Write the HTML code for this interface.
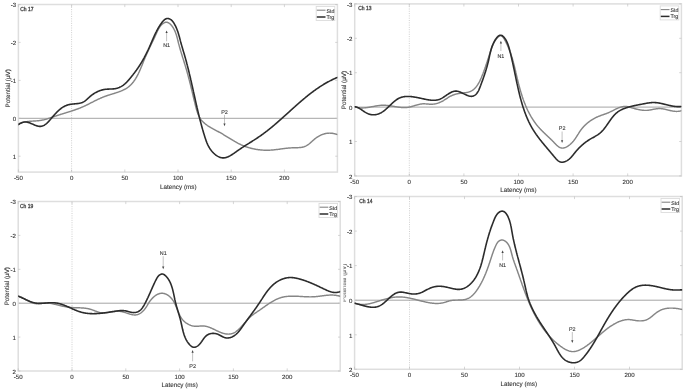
<!DOCTYPE html>
<html><head><meta charset="utf-8"><style>
html,body{margin:0;padding:0;background:#fff;}
body{width:685px;height:392px;overflow:hidden;}
svg{display:block;}
svg text{font-family:"Liberation Sans", sans-serif;text-rendering:geometricPrecision;fill:#333;stroke:#444;stroke-width:0.12px;}
svg{filter:blur(0.35px);}
</style></head><body>
<svg width="685" height="392" viewBox="0 0 685 392">
<rect width="685" height="392" fill="#fff"/>
<clipPath id="c1"><rect x="18.4" y="4.5" width="319.0" height="167.6"/></clipPath>
<line x1="71.6" y1="4.5" x2="71.6" y2="172.1" stroke="#c4c4c4" stroke-width="0.8" stroke-dasharray="1 1.3"/>
<line x1="18.4" y1="118.3" x2="337.4" y2="118.3" stroke="#9a9a9a" stroke-width="0.9"/>
<rect x="18.4" y="4.5" width="319.0" height="167.6" fill="none" stroke="#dedede" stroke-width="1.5"/>
<line x1="18.4" y1="4.5" x2="20.6" y2="4.5" stroke="#bbb" stroke-width="0.6"/>
<line x1="337.4" y1="4.5" x2="335.2" y2="4.5" stroke="#bbb" stroke-width="0.6"/>
<text x="16.2" y="7.2" text-anchor="end" font-size="6.1">-3</text>
<line x1="18.4" y1="42.4" x2="20.6" y2="42.4" stroke="#bbb" stroke-width="0.6"/>
<line x1="337.4" y1="42.4" x2="335.2" y2="42.4" stroke="#bbb" stroke-width="0.6"/>
<text x="16.2" y="45.1" text-anchor="end" font-size="6.1">-2</text>
<line x1="18.4" y1="80.4" x2="20.6" y2="80.4" stroke="#bbb" stroke-width="0.6"/>
<line x1="337.4" y1="80.4" x2="335.2" y2="80.4" stroke="#bbb" stroke-width="0.6"/>
<text x="16.2" y="83.1" text-anchor="end" font-size="6.1">-1</text>
<line x1="18.4" y1="118.3" x2="20.6" y2="118.3" stroke="#bbb" stroke-width="0.6"/>
<line x1="337.4" y1="118.3" x2="335.2" y2="118.3" stroke="#bbb" stroke-width="0.6"/>
<text x="16.2" y="121.0" text-anchor="end" font-size="6.1">0</text>
<line x1="18.4" y1="156.2" x2="20.6" y2="156.2" stroke="#bbb" stroke-width="0.6"/>
<line x1="337.4" y1="156.2" x2="335.2" y2="156.2" stroke="#bbb" stroke-width="0.6"/>
<text x="16.2" y="158.9" text-anchor="end" font-size="6.1">1</text>
<line x1="18.4" y1="172.1" x2="18.4" y2="169.5" stroke="#bbb" stroke-width="0.6"/>
<line x1="18.4" y1="4.5" x2="18.4" y2="7.1" stroke="#bbb" stroke-width="0.6"/>
<text x="18.4" y="180.2" text-anchor="middle" font-size="6.1">-50</text>
<line x1="71.6" y1="172.1" x2="71.6" y2="169.5" stroke="#bbb" stroke-width="0.6"/>
<line x1="71.6" y1="4.5" x2="71.6" y2="7.1" stroke="#bbb" stroke-width="0.6"/>
<text x="71.6" y="180.2" text-anchor="middle" font-size="6.1">0</text>
<line x1="124.8" y1="172.1" x2="124.8" y2="169.5" stroke="#bbb" stroke-width="0.6"/>
<line x1="124.8" y1="4.5" x2="124.8" y2="7.1" stroke="#bbb" stroke-width="0.6"/>
<text x="124.8" y="180.2" text-anchor="middle" font-size="6.1">50</text>
<line x1="178.0" y1="172.1" x2="178.0" y2="169.5" stroke="#bbb" stroke-width="0.6"/>
<line x1="178.0" y1="4.5" x2="178.0" y2="7.1" stroke="#bbb" stroke-width="0.6"/>
<text x="178.0" y="180.2" text-anchor="middle" font-size="6.1">100</text>
<line x1="231.2" y1="172.1" x2="231.2" y2="169.5" stroke="#bbb" stroke-width="0.6"/>
<line x1="231.2" y1="4.5" x2="231.2" y2="7.1" stroke="#bbb" stroke-width="0.6"/>
<text x="231.2" y="180.2" text-anchor="middle" font-size="6.1">150</text>
<line x1="284.4" y1="172.1" x2="284.4" y2="169.5" stroke="#bbb" stroke-width="0.6"/>
<line x1="284.4" y1="4.5" x2="284.4" y2="7.1" stroke="#bbb" stroke-width="0.6"/>
<text x="284.4" y="180.2" text-anchor="middle" font-size="6.1">200</text>
<text x="178.3" y="188.5" text-anchor="middle" font-size="6.3">Latency (ms)</text>
<text transform="translate(9.6 88.3) rotate(-90)" text-anchor="middle" font-size="6.3">Potential (&#956;V)</text>
<text x="20.2" y="11.0" font-size="5.8" textLength="13.2" lengthAdjust="spacingAndGlyphs" style="stroke-width:0.3px">Ch 17</text>
<g clip-path="url(#c1)" fill="none" stroke-linejoin="round" stroke-linecap="round">
<path d="M18.41 124.12 L18.86 123.89 L19.32 123.68 L19.78 123.47 L20.24 123.28 L20.71 123.10 L21.18 122.93 L21.65 122.77 L22.13 122.62 L22.60 122.48 L23.09 122.35 L23.57 122.23 L24.06 122.12 L24.55 122.02 L25.04 121.92 L25.53 121.83 L26.03 121.75 L26.53 121.68 L27.03 121.61 L27.53 121.54 L28.03 121.49 L28.54 121.43 L29.04 121.38 L29.55 121.34 L30.05 121.29 L30.56 121.26 L31.07 121.22 L31.58 121.18 L32.08 121.15 L32.59 121.12 L33.10 121.09 L33.61 121.06 L34.12 121.02 L34.63 120.99 L35.13 120.96 L35.64 120.92 L36.15 120.89 L36.65 120.85 L37.15 120.81 L37.66 120.76 L38.16 120.72 L38.66 120.66 L39.15 120.61 L39.65 120.54 L40.14 120.48 L40.63 120.40 L41.12 120.32 L41.61 120.24 L42.10 120.15 L42.58 120.05 L43.06 119.95 L43.54 119.84 L44.02 119.73 L44.49 119.61 L44.97 119.49 L45.44 119.36 L45.91 119.24 L46.38 119.10 L46.85 118.96 L47.32 118.82 L47.79 118.68 L48.26 118.53 L48.72 118.39 L49.19 118.24 L49.66 118.08 L50.12 117.93 L50.59 117.77 L51.05 117.61 L51.52 117.45 L51.98 117.29 L52.45 117.13 L52.92 116.97 L53.38 116.81 L53.85 116.65 L54.32 116.49 L54.79 116.32 L55.26 116.16 L55.73 116.00 L56.20 115.85 L56.67 115.69 L57.14 115.53 L57.62 115.38 L58.09 115.22 L58.57 115.07 L59.05 114.92 L59.53 114.77 L60.00 114.61 L60.48 114.46 L60.96 114.31 L61.44 114.16 L61.93 114.02 L62.41 113.87 L62.89 113.72 L63.37 113.57 L63.85 113.42 L64.34 113.27 L64.82 113.12 L65.30 112.98 L65.79 112.83 L66.27 112.68 L66.75 112.53 L67.24 112.38 L67.72 112.23 L68.20 112.08 L68.69 111.93 L69.17 111.78 L69.65 111.63 L70.13 111.47 L70.61 111.32 L71.09 111.17 L71.58 111.01 L72.06 110.85 L72.53 110.70 L73.01 110.54 L73.49 110.38 L73.97 110.22 L74.45 110.05 L74.92 109.89 L75.40 109.72 L75.87 109.56 L76.34 109.39 L76.81 109.22 L77.28 109.05 L77.75 108.87 L78.22 108.70 L78.69 108.52 L79.15 108.34 L79.62 108.16 L80.08 107.97 L80.54 107.79 L81.00 107.60 L81.46 107.41 L81.92 107.21 L82.37 107.02 L82.82 106.82 L83.28 106.62 L83.73 106.42 L84.17 106.21 L84.62 106.00 L85.07 105.80 L85.51 105.58 L85.96 105.37 L86.40 105.16 L86.84 104.94 L87.28 104.73 L87.72 104.51 L88.16 104.29 L88.60 104.07 L89.04 103.85 L89.48 103.62 L89.91 103.40 L90.35 103.18 L90.79 102.96 L91.23 102.73 L91.66 102.51 L92.10 102.28 L92.54 102.06 L92.98 101.84 L93.41 101.61 L93.85 101.39 L94.29 101.17 L94.73 100.95 L95.17 100.72 L95.61 100.50 L96.06 100.28 L96.50 100.07 L96.94 99.85 L97.39 99.63 L97.83 99.42 L98.28 99.21 L98.73 99.00 L99.18 98.79 L99.63 98.58 L100.09 98.38 L100.54 98.17 L101.00 97.97 L101.46 97.78 L101.92 97.58 L102.39 97.39 L102.85 97.20 L103.32 97.01 L103.79 96.83 L104.26 96.65 L104.74 96.47 L105.21 96.30 L105.69 96.12 L106.18 95.95 L106.66 95.79 L107.15 95.63 L107.63 95.46 L108.12 95.30 L108.61 95.15 L109.10 94.99 L109.60 94.83 L110.09 94.68 L110.58 94.53 L111.08 94.37 L111.57 94.22 L112.06 94.07 L112.56 93.92 L113.05 93.77 L113.54 93.61 L114.04 93.46 L114.53 93.31 L115.02 93.15 L115.51 92.99 L116.00 92.84 L116.48 92.68 L116.97 92.51 L117.45 92.35 L117.93 92.18 L118.41 92.02 L118.89 91.84 L119.36 91.67 L119.83 91.49 L120.30 91.31 L120.77 91.13 L121.23 90.94 L121.69 90.75 L122.14 90.55 L122.59 90.35 L123.04 90.14 L123.48 89.93 L123.92 89.71 L124.36 89.49 L124.79 89.27 L125.21 89.03 L125.63 88.80 L126.04 88.55 L126.45 88.30 L126.86 88.04 L127.26 87.78 L127.65 87.50 L128.03 87.23 L128.41 86.94 L128.79 86.65 L129.16 86.34 L129.52 86.04 L129.87 85.72 L130.22 85.40 L130.57 85.07 L130.91 84.73 L131.24 84.39 L131.57 84.04 L131.89 83.69 L132.21 83.33 L132.52 82.96 L132.83 82.59 L133.13 82.21 L133.43 81.82 L133.72 81.44 L134.01 81.04 L134.29 80.64 L134.57 80.24 L134.84 79.83 L135.12 79.42 L135.38 79.00 L135.65 78.58 L135.91 78.15 L136.16 77.72 L136.41 77.29 L136.66 76.85 L136.91 76.41 L137.15 75.97 L137.39 75.52 L137.62 75.07 L137.86 74.61 L138.09 74.16 L138.31 73.70 L138.54 73.24 L138.76 72.77 L138.98 72.30 L139.20 71.84 L139.41 71.37 L139.62 70.89 L139.83 70.42 L140.04 69.94 L140.25 69.47 L140.46 68.99 L140.66 68.51 L140.86 68.03 L141.06 67.55 L141.26 67.07 L141.46 66.59 L141.66 66.11 L141.85 65.62 L142.05 65.14 L142.24 64.66 L142.44 64.18 L142.63 63.70 L142.82 63.22 L143.02 62.74 L143.21 62.26 L143.40 61.78 L143.59 61.30 L143.79 60.82 L143.98 60.35 L144.17 59.88 L144.37 59.41 L144.56 58.94 L144.75 58.47 L144.95 58.00 L145.14 57.54 L145.34 57.08 L145.54 56.62 L145.74 56.17 L145.93 55.71 L146.13 55.26 L146.33 54.81 L146.54 54.36 L146.74 53.91 L146.94 53.46 L147.14 53.01 L147.34 52.57 L147.55 52.13 L147.75 51.69 L147.96 51.24 L148.16 50.80 L148.37 50.36 L148.57 49.93 L148.78 49.49 L148.99 49.05 L149.20 48.61 L149.40 48.18 L149.61 47.74 L149.82 47.30 L150.03 46.87 L150.24 46.43 L150.45 46.00 L150.66 45.56 L150.87 45.12 L151.08 44.69 L151.29 44.25 L151.50 43.81 L151.71 43.37 L151.92 42.93 L152.13 42.49 L152.35 42.05 L152.56 41.61 L152.77 41.17 L152.98 40.72 L153.19 40.28 L153.41 39.83 L153.62 39.38 L153.83 38.94 L154.04 38.49 L154.26 38.03 L154.47 37.58 L154.68 37.12 L154.89 36.67 L155.10 36.21 L155.32 35.74 L155.53 35.28 L155.74 34.81 L155.95 34.34 L156.16 33.87 L156.37 33.40 L156.59 32.93 L156.80 32.45 L157.02 31.98 L157.24 31.50 L157.46 31.03 L157.68 30.56 L157.92 30.09 L158.15 29.63 L158.40 29.17 L158.65 28.71 L158.90 28.27 L159.17 27.83 L159.45 27.39 L159.73 26.97 L160.03 26.55 L160.33 26.15 L160.65 25.75 L160.98 25.37 L161.32 24.99 L161.68 24.63 L162.05 24.29 L162.44 23.96 L162.84 23.64 L163.25 23.34 L163.68 23.07 L164.12 22.83 L164.56 22.62 L165.00 22.45 L165.44 22.32 L165.88 22.25 L166.32 22.23 L166.75 22.25 L167.17 22.32 L167.59 22.43 L168.01 22.58 L168.42 22.77 L168.82 22.99 L169.21 23.24 L169.60 23.53 L169.98 23.84 L170.35 24.18 L170.71 24.53 L171.07 24.91 L171.41 25.31 L171.74 25.72 L172.07 26.14 L172.38 26.57 L172.68 27.01 L172.98 27.46 L173.26 27.91 L173.52 28.36 L173.78 28.81 L174.03 29.26 L174.26 29.71 L174.49 30.17 L174.71 30.63 L174.92 31.09 L175.12 31.55 L175.31 32.02 L175.49 32.48 L175.67 32.95 L175.84 33.41 L176.01 33.88 L176.16 34.35 L176.32 34.83 L176.46 35.30 L176.61 35.77 L176.75 36.25 L176.88 36.72 L177.01 37.20 L177.14 37.68 L177.26 38.15 L177.39 38.63 L177.51 39.11 L177.63 39.59 L177.75 40.07 L177.87 40.55 L177.98 41.04 L178.10 41.52 L178.22 42.00 L178.34 42.48 L178.46 42.96 L178.59 43.44 L178.71 43.93 L178.84 44.41 L178.97 44.89 L179.10 45.37 L179.23 45.86 L179.36 46.34 L179.49 46.82 L179.63 47.30 L179.76 47.78 L179.90 48.27 L180.04 48.75 L180.18 49.23 L180.32 49.71 L180.46 50.20 L180.61 50.68 L180.75 51.16 L180.89 51.64 L181.04 52.13 L181.19 52.61 L181.33 53.09 L181.48 53.57 L181.63 54.05 L181.78 54.54 L181.92 55.02 L182.07 55.50 L182.22 55.98 L182.37 56.46 L182.52 56.94 L182.67 57.43 L182.83 57.91 L182.98 58.39 L183.13 58.87 L183.28 59.35 L183.43 59.83 L183.58 60.31 L183.73 60.79 L183.88 61.27 L184.03 61.75 L184.18 62.23 L184.33 62.71 L184.48 63.19 L184.63 63.67 L184.78 64.15 L184.92 64.63 L185.07 65.11 L185.22 65.59 L185.36 66.07 L185.51 66.54 L185.65 67.02 L185.79 67.50 L185.94 67.98 L186.08 68.45 L186.22 68.93 L186.36 69.41 L186.50 69.89 L186.63 70.36 L186.77 70.84 L186.90 71.31 L187.04 71.79 L187.17 72.27 L187.31 72.74 L187.44 73.22 L187.57 73.69 L187.70 74.17 L187.83 74.64 L187.96 75.12 L188.09 75.60 L188.22 76.07 L188.34 76.55 L188.47 77.02 L188.59 77.50 L188.72 77.97 L188.84 78.45 L188.97 78.93 L189.09 79.40 L189.21 79.88 L189.34 80.35 L189.46 80.83 L189.58 81.31 L189.70 81.78 L189.82 82.26 L189.94 82.74 L190.06 83.22 L190.18 83.69 L190.30 84.17 L190.42 84.65 L190.54 85.13 L190.66 85.61 L190.77 86.09 L190.89 86.57 L191.01 87.05 L191.13 87.53 L191.24 88.01 L191.36 88.49 L191.48 88.97 L191.59 89.45 L191.71 89.94 L191.83 90.42 L191.95 90.90 L192.06 91.39 L192.18 91.87 L192.30 92.36 L192.41 92.84 L192.53 93.33 L192.65 93.82 L192.76 94.30 L192.88 94.79 L193.00 95.28 L193.11 95.77 L193.23 96.26 L193.35 96.75 L193.47 97.24 L193.59 97.74 L193.71 98.23 L193.82 98.72 L193.94 99.22 L194.06 99.71 L194.18 100.21 L194.30 100.71 L194.43 101.20 L194.55 101.70 L194.67 102.20 L194.79 102.70 L194.91 103.20 L195.04 103.71 L195.16 104.21 L195.28 104.71 L195.41 105.22 L195.53 105.73 L195.66 106.23 L195.79 106.74 L195.92 107.25 L196.05 107.75 L196.18 108.26 L196.32 108.76 L196.46 109.26 L196.60 109.77 L196.75 110.27 L196.90 110.76 L197.05 111.26 L197.21 111.75 L197.37 112.24 L197.54 112.72 L197.71 113.20 L197.89 113.68 L198.07 114.15 L198.26 114.61 L198.46 115.08 L198.66 115.53 L198.87 115.98 L199.09 116.42 L199.31 116.86 L199.55 117.29 L199.79 117.71 L200.04 118.13 L200.30 118.54 L200.56 118.94 L200.84 119.33 L201.13 119.71 L201.42 120.09 L201.72 120.46 L202.03 120.82 L202.35 121.17 L202.68 121.52 L203.01 121.86 L203.35 122.20 L203.70 122.53 L204.05 122.85 L204.41 123.17 L204.78 123.48 L205.15 123.79 L205.53 124.09 L205.91 124.39 L206.30 124.68 L206.70 124.97 L207.10 125.25 L207.50 125.53 L207.91 125.80 L208.32 126.08 L208.74 126.34 L209.16 126.61 L209.58 126.87 L210.01 127.13 L210.44 127.38 L210.87 127.64 L211.31 127.89 L211.75 128.14 L212.19 128.38 L212.63 128.63 L213.08 128.87 L213.52 129.11 L213.97 129.36 L214.42 129.60 L214.87 129.84 L215.32 130.08 L215.77 130.31 L216.22 130.55 L216.67 130.79 L217.12 131.03 L217.57 131.27 L218.02 131.51 L218.47 131.75 L218.92 131.99 L219.36 132.24 L219.81 132.48 L220.25 132.73 L220.69 132.98 L221.13 133.23 L221.57 133.48 L222.00 133.73 L222.44 133.99 L222.87 134.24 L223.30 134.50 L223.73 134.76 L224.16 135.01 L224.59 135.27 L225.01 135.53 L225.44 135.79 L225.86 136.05 L226.29 136.32 L226.71 136.58 L227.13 136.84 L227.56 137.10 L227.98 137.36 L228.40 137.62 L228.82 137.88 L229.24 138.14 L229.66 138.40 L230.08 138.66 L230.50 138.92 L230.93 139.18 L231.35 139.44 L231.77 139.69 L232.19 139.95 L232.61 140.20 L233.04 140.45 L233.46 140.71 L233.88 140.95 L234.31 141.20 L234.73 141.45 L235.16 141.69 L235.59 141.93 L236.02 142.17 L236.45 142.41 L236.88 142.65 L237.31 142.88 L237.75 143.11 L238.18 143.34 L238.62 143.56 L239.06 143.79 L239.50 144.01 L239.94 144.22 L240.39 144.44 L240.83 144.65 L241.28 144.85 L241.73 145.06 L242.19 145.25 L242.64 145.45 L243.10 145.64 L243.56 145.83 L244.02 146.02 L244.49 146.20 L244.96 146.37 L245.42 146.55 L245.90 146.71 L246.37 146.88 L246.85 147.04 L247.33 147.20 L247.81 147.35 L248.29 147.50 L248.77 147.64 L249.26 147.79 L249.74 147.92 L250.23 148.06 L250.72 148.19 L251.21 148.31 L251.70 148.43 L252.20 148.55 L252.69 148.67 L253.19 148.78 L253.69 148.88 L254.19 148.98 L254.68 149.08 L255.18 149.18 L255.69 149.27 L256.19 149.35 L256.69 149.43 L257.19 149.51 L257.70 149.59 L258.20 149.66 L258.70 149.72 L259.21 149.78 L259.71 149.84 L260.22 149.90 L260.72 149.95 L261.23 149.99 L261.73 150.03 L262.24 150.07 L262.74 150.11 L263.25 150.14 L263.75 150.16 L264.26 150.18 L264.76 150.20 L265.26 150.22 L265.77 150.23 L266.27 150.23 L266.77 150.23 L267.27 150.23 L267.77 150.22 L268.27 150.21 L268.76 150.20 L269.26 150.18 L269.76 150.16 L270.25 150.13 L270.75 150.10 L271.24 150.07 L271.73 150.03 L272.22 149.99 L272.71 149.95 L273.21 149.91 L273.70 149.86 L274.18 149.81 L274.67 149.76 L275.16 149.71 L275.65 149.65 L276.14 149.59 L276.63 149.53 L277.11 149.47 L277.60 149.41 L278.09 149.35 L278.58 149.29 L279.06 149.22 L279.55 149.16 L280.04 149.09 L280.53 149.03 L281.01 148.96 L281.50 148.90 L281.99 148.83 L282.48 148.77 L282.97 148.70 L283.46 148.64 L283.95 148.58 L284.44 148.51 L284.93 148.45 L285.42 148.39 L285.91 148.34 L286.40 148.28 L286.90 148.23 L287.39 148.17 L287.89 148.12 L288.38 148.08 L288.88 148.03 L289.38 147.99 L289.87 147.95 L290.37 147.91 L290.88 147.88 L291.38 147.85 L291.88 147.82 L292.39 147.80 L292.89 147.78 L293.40 147.76 L293.91 147.75 L294.42 147.74 L294.93 147.73 L295.43 147.72 L295.94 147.71 L296.45 147.70 L296.96 147.69 L297.47 147.68 L297.97 147.66 L298.48 147.64 L298.98 147.61 L299.48 147.57 L299.98 147.53 L300.47 147.48 L300.96 147.42 L301.45 147.36 L301.93 147.28 L302.41 147.19 L302.88 147.08 L303.35 146.97 L303.81 146.84 L304.27 146.69 L304.72 146.53 L305.17 146.36 L305.61 146.16 L306.04 145.95 L306.47 145.72 L306.89 145.47 L307.31 145.21 L307.72 144.94 L308.12 144.65 L308.53 144.35 L308.93 144.04 L309.32 143.73 L309.71 143.40 L310.11 143.07 L310.49 142.73 L310.88 142.38 L311.27 142.03 L311.66 141.68 L312.04 141.33 L312.43 140.98 L312.82 140.63 L313.21 140.28 L313.60 139.93 L314.00 139.59 L314.39 139.25 L314.80 138.92 L315.20 138.59 L315.61 138.28 L316.02 137.97 L316.44 137.67 L316.86 137.38 L317.28 137.09 L317.71 136.82 L318.14 136.55 L318.57 136.29 L319.01 136.04 L319.45 135.80 L319.89 135.57 L320.34 135.35 L320.79 135.14 L321.24 134.93 L321.70 134.74 L322.16 134.56 L322.62 134.39 L323.09 134.23 L323.56 134.08 L324.03 133.93 L324.50 133.81 L324.98 133.69 L325.46 133.58 L325.94 133.48 L326.43 133.40 L326.92 133.33 L327.41 133.27 L327.90 133.22 L328.40 133.18 L328.90 133.16 L329.40 133.14 L329.91 133.15 L330.41 133.16 L330.92 133.19 L331.43 133.23 L331.95 133.28 L332.46 133.34 L332.97 133.42 L333.48 133.51 L333.98 133.61 L334.48 133.72 L334.97 133.84 L335.46 133.98 L335.94 134.12 L336.41 134.27 L336.86 134.43 L337.31 134.60" stroke="#868686" stroke-width="1.45"/>
<path d="M18.40 124.62 L18.90 124.28 L19.38 123.97 L19.86 123.68 L20.33 123.41 L20.80 123.16 L21.25 122.94 L21.70 122.74 L22.15 122.56 L22.60 122.41 L23.04 122.28 L23.48 122.17 L23.92 122.08 L24.36 122.02 L24.80 121.98 L25.24 121.97 L25.69 121.97 L26.14 122.01 L26.60 122.06 L27.06 122.14 L27.53 122.24 L28.01 122.37 L28.49 122.51 L28.98 122.67 L29.47 122.84 L29.96 123.03 L30.46 123.23 L30.96 123.44 L31.46 123.65 L31.97 123.87 L32.48 124.09 L32.99 124.32 L33.49 124.54 L34.00 124.76 L34.51 124.97 L35.02 125.18 L35.52 125.38 L36.02 125.56 L36.52 125.73 L37.02 125.89 L37.51 126.03 L38.00 126.15 L38.48 126.25 L38.96 126.33 L39.43 126.38 L39.90 126.40 L40.36 126.39 L40.81 126.36 L41.25 126.29 L41.69 126.21 L42.12 126.09 L42.55 125.96 L42.97 125.80 L43.39 125.61 L43.80 125.41 L44.20 125.19 L44.60 124.95 L45.00 124.69 L45.39 124.41 L45.78 124.12 L46.16 123.81 L46.54 123.49 L46.91 123.16 L47.29 122.81 L47.65 122.46 L48.02 122.09 L48.38 121.72 L48.74 121.34 L49.10 120.95 L49.45 120.56 L49.80 120.16 L50.15 119.76 L50.50 119.35 L50.85 118.95 L51.19 118.54 L51.53 118.14 L51.88 117.73 L52.22 117.33 L52.56 116.93 L52.90 116.53 L53.24 116.14 L53.58 115.74 L53.92 115.36 L54.26 114.97 L54.60 114.59 L54.94 114.21 L55.29 113.83 L55.63 113.46 L55.97 113.09 L56.32 112.73 L56.66 112.37 L57.01 112.02 L57.36 111.67 L57.71 111.32 L58.07 110.98 L58.43 110.65 L58.78 110.32 L59.15 110.00 L59.51 109.69 L59.88 109.38 L60.25 109.08 L60.62 108.78 L61.00 108.49 L61.38 108.21 L61.77 107.94 L62.16 107.67 L62.55 107.41 L62.95 107.16 L63.35 106.92 L63.76 106.68 L64.17 106.46 L64.59 106.24 L65.01 106.03 L65.44 105.83 L65.87 105.64 L66.31 105.46 L66.75 105.29 L67.21 105.13 L67.66 104.99 L68.13 104.85 L68.60 104.72 L69.08 104.60 L69.56 104.49 L70.05 104.40 L70.55 104.31 L71.06 104.24 L71.57 104.17 L72.08 104.11 L72.60 104.05 L73.12 104.00 L73.65 103.95 L74.18 103.91 L74.70 103.86 L75.23 103.82 L75.76 103.77 L76.29 103.72 L76.81 103.67 L77.33 103.61 L77.85 103.54 L78.37 103.47 L78.88 103.39 L79.38 103.30 L79.88 103.20 L80.37 103.09 L80.86 102.96 L81.34 102.82 L81.81 102.66 L82.26 102.49 L82.71 102.30 L83.15 102.08 L83.58 101.85 L84.00 101.61 L84.41 101.35 L84.81 101.07 L85.20 100.78 L85.59 100.48 L85.98 100.17 L86.36 99.85 L86.73 99.52 L87.11 99.19 L87.48 98.85 L87.85 98.51 L88.22 98.17 L88.59 97.82 L88.97 97.48 L89.35 97.14 L89.73 96.80 L90.11 96.46 L90.50 96.13 L90.90 95.81 L91.29 95.49 L91.70 95.18 L92.11 94.87 L92.52 94.58 L92.94 94.28 L93.36 94.00 L93.79 93.72 L94.22 93.44 L94.65 93.18 L95.09 92.92 L95.53 92.67 L95.97 92.42 L96.42 92.19 L96.87 91.96 L97.33 91.74 L97.79 91.52 L98.25 91.32 L98.71 91.12 L99.18 90.94 L99.65 90.76 L100.12 90.59 L100.60 90.42 L101.07 90.27 L101.55 90.13 L102.03 89.99 L102.52 89.87 L103.00 89.75 L103.49 89.65 L103.98 89.55 L104.47 89.47 L104.96 89.39 L105.46 89.33 L105.95 89.27 L106.45 89.22 L106.94 89.19 L107.44 89.16 L107.94 89.13 L108.44 89.11 L108.94 89.09 L109.44 89.07 L109.94 89.06 L110.43 89.04 L110.93 89.03 L111.43 89.01 L111.93 88.98 L112.43 88.96 L112.92 88.92 L113.42 88.88 L113.91 88.83 L114.40 88.77 L114.89 88.70 L115.38 88.62 L115.87 88.52 L116.35 88.41 L116.83 88.29 L117.31 88.16 L117.79 88.01 L118.26 87.85 L118.73 87.68 L119.19 87.50 L119.64 87.30 L120.09 87.09 L120.54 86.87 L120.98 86.64 L121.41 86.40 L121.83 86.14 L122.25 85.88 L122.66 85.60 L123.07 85.32 L123.47 85.02 L123.87 84.72 L124.25 84.41 L124.64 84.09 L125.02 83.76 L125.39 83.43 L125.76 83.09 L126.13 82.74 L126.49 82.39 L126.84 82.03 L127.20 81.66 L127.54 81.29 L127.89 80.92 L128.23 80.54 L128.57 80.15 L128.90 79.77 L129.23 79.38 L129.56 78.99 L129.89 78.59 L130.21 78.20 L130.53 77.80 L130.85 77.41 L131.17 77.01 L131.48 76.61 L131.80 76.21 L132.11 75.81 L132.42 75.42 L132.73 75.02 L133.04 74.63 L133.34 74.23 L133.65 73.84 L133.95 73.45 L134.25 73.05 L134.56 72.66 L134.85 72.26 L135.15 71.87 L135.45 71.47 L135.74 71.08 L136.03 70.68 L136.33 70.28 L136.61 69.88 L136.90 69.48 L137.19 69.08 L137.47 68.68 L137.75 68.27 L138.03 67.87 L138.31 67.46 L138.59 67.04 L138.86 66.63 L139.13 66.22 L139.40 65.80 L139.67 65.38 L139.94 64.96 L140.21 64.54 L140.47 64.12 L140.73 63.70 L140.99 63.27 L141.25 62.84 L141.51 62.41 L141.76 61.99 L142.02 61.55 L142.27 61.12 L142.52 60.69 L142.77 60.25 L143.01 59.82 L143.26 59.38 L143.50 58.94 L143.74 58.50 L143.99 58.06 L144.22 57.62 L144.46 57.18 L144.70 56.73 L144.93 56.29 L145.17 55.84 L145.40 55.40 L145.63 54.95 L145.86 54.50 L146.08 54.05 L146.31 53.60 L146.53 53.15 L146.76 52.70 L146.98 52.25 L147.20 51.80 L147.42 51.34 L147.63 50.89 L147.85 50.44 L148.06 49.98 L148.28 49.53 L148.49 49.07 L148.70 48.62 L148.91 48.16 L149.12 47.70 L149.33 47.25 L149.53 46.79 L149.74 46.33 L149.94 45.88 L150.14 45.42 L150.34 44.96 L150.54 44.50 L150.74 44.05 L150.94 43.59 L151.14 43.13 L151.34 42.67 L151.53 42.22 L151.73 41.76 L151.93 41.30 L152.12 40.84 L152.32 40.39 L152.52 39.93 L152.71 39.47 L152.91 39.02 L153.11 38.56 L153.31 38.11 L153.51 37.65 L153.71 37.20 L153.91 36.74 L154.11 36.29 L154.32 35.84 L154.52 35.39 L154.73 34.93 L154.94 34.48 L155.15 34.03 L155.37 33.58 L155.58 33.14 L155.80 32.69 L156.02 32.24 L156.25 31.80 L156.47 31.35 L156.70 30.91 L156.94 30.46 L157.17 30.02 L157.41 29.58 L157.65 29.14 L157.90 28.70 L158.15 28.26 L158.40 27.83 L158.66 27.39 L158.92 26.96 L159.19 26.53 L159.46 26.09 L159.73 25.66 L160.01 25.24 L160.29 24.81 L160.58 24.38 L160.88 23.96 L161.18 23.54 L161.48 23.11 L161.79 22.70 L162.10 22.28 L162.43 21.87 L162.75 21.47 L163.09 21.08 L163.43 20.71 L163.78 20.36 L164.14 20.03 L164.50 19.72 L164.87 19.44 L165.26 19.19 L165.65 18.97 L166.05 18.79 L166.46 18.65 L166.88 18.55 L167.31 18.50 L167.75 18.49 L168.20 18.53 L168.65 18.62 L169.10 18.75 L169.55 18.92 L170.00 19.13 L170.43 19.37 L170.85 19.65 L171.26 19.95 L171.64 20.29 L172.01 20.65 L172.36 21.03 L172.70 21.43 L173.02 21.85 L173.33 22.28 L173.63 22.73 L173.92 23.18 L174.20 23.64 L174.46 24.11 L174.72 24.57 L174.97 25.04 L175.22 25.50 L175.45 25.97 L175.68 26.44 L175.90 26.90 L176.11 27.37 L176.32 27.84 L176.52 28.31 L176.72 28.78 L176.91 29.25 L177.09 29.72 L177.27 30.19 L177.44 30.66 L177.61 31.13 L177.77 31.60 L177.93 32.07 L178.09 32.54 L178.24 33.01 L178.39 33.48 L178.53 33.96 L178.67 34.43 L178.81 34.90 L178.95 35.38 L179.08 35.85 L179.21 36.32 L179.34 36.80 L179.47 37.27 L179.60 37.75 L179.72 38.22 L179.85 38.70 L179.97 39.17 L180.10 39.65 L180.22 40.13 L180.35 40.60 L180.47 41.08 L180.60 41.56 L180.72 42.04 L180.85 42.51 L180.98 42.99 L181.11 43.47 L181.24 43.95 L181.38 44.43 L181.51 44.91 L181.65 45.39 L181.79 45.87 L181.93 46.35 L182.07 46.83 L182.21 47.31 L182.35 47.79 L182.49 48.27 L182.63 48.75 L182.77 49.23 L182.92 49.71 L183.06 50.20 L183.20 50.68 L183.35 51.16 L183.49 51.64 L183.63 52.12 L183.78 52.61 L183.92 53.09 L184.06 53.57 L184.21 54.05 L184.35 54.54 L184.49 55.02 L184.63 55.50 L184.77 55.98 L184.91 56.47 L185.04 56.95 L185.18 57.43 L185.32 57.92 L185.45 58.40 L185.59 58.88 L185.72 59.37 L185.85 59.85 L185.99 60.33 L186.12 60.82 L186.25 61.30 L186.38 61.78 L186.51 62.27 L186.64 62.75 L186.77 63.23 L186.89 63.72 L187.02 64.20 L187.15 64.68 L187.27 65.17 L187.40 65.65 L187.52 66.14 L187.64 66.62 L187.77 67.10 L187.89 67.59 L188.01 68.07 L188.13 68.56 L188.25 69.04 L188.37 69.53 L188.49 70.01 L188.61 70.49 L188.73 70.98 L188.85 71.46 L188.97 71.95 L189.08 72.43 L189.20 72.92 L189.32 73.40 L189.43 73.89 L189.55 74.37 L189.66 74.86 L189.78 75.34 L189.89 75.83 L190.01 76.31 L190.12 76.80 L190.23 77.28 L190.35 77.77 L190.46 78.25 L190.57 78.74 L190.68 79.23 L190.80 79.71 L190.91 80.20 L191.02 80.68 L191.13 81.17 L191.24 81.65 L191.35 82.14 L191.46 82.63 L191.57 83.11 L191.68 83.60 L191.79 84.09 L191.90 84.57 L192.01 85.06 L192.12 85.54 L192.22 86.03 L192.33 86.52 L192.44 87.00 L192.55 87.49 L192.66 87.98 L192.77 88.46 L192.87 88.95 L192.98 89.44 L193.09 89.93 L193.20 90.41 L193.31 90.90 L193.41 91.39 L193.52 91.87 L193.63 92.36 L193.74 92.85 L193.85 93.34 L193.95 93.82 L194.06 94.31 L194.17 94.80 L194.28 95.29 L194.39 95.78 L194.49 96.26 L194.60 96.75 L194.71 97.24 L194.82 97.73 L194.93 98.22 L195.04 98.70 L195.15 99.19 L195.25 99.68 L195.36 100.17 L195.47 100.66 L195.58 101.15 L195.69 101.64 L195.80 102.12 L195.91 102.61 L196.02 103.10 L196.13 103.59 L196.25 104.08 L196.36 104.57 L196.47 105.06 L196.58 105.55 L196.69 106.04 L196.80 106.53 L196.92 107.02 L197.03 107.51 L197.14 108.00 L197.26 108.48 L197.37 108.97 L197.49 109.46 L197.60 109.95 L197.72 110.44 L197.83 110.93 L197.95 111.42 L198.07 111.91 L198.18 112.40 L198.30 112.89 L198.42 113.38 L198.54 113.87 L198.65 114.35 L198.77 114.84 L198.89 115.33 L199.01 115.82 L199.13 116.31 L199.25 116.80 L199.38 117.28 L199.50 117.77 L199.62 118.26 L199.74 118.75 L199.87 119.23 L199.99 119.72 L200.11 120.20 L200.24 120.69 L200.37 121.18 L200.49 121.66 L200.62 122.15 L200.75 122.63 L200.87 123.12 L201.00 123.60 L201.13 124.08 L201.26 124.57 L201.39 125.05 L201.52 125.53 L201.65 126.01 L201.79 126.49 L201.92 126.98 L202.05 127.46 L202.19 127.94 L202.32 128.42 L202.46 128.90 L202.59 129.38 L202.73 129.85 L202.87 130.33 L203.00 130.81 L203.14 131.29 L203.28 131.76 L203.42 132.24 L203.56 132.71 L203.71 133.19 L203.85 133.66 L203.99 134.13 L204.14 134.61 L204.28 135.08 L204.43 135.55 L204.57 136.02 L204.72 136.49 L204.87 136.96 L205.02 137.43 L205.17 137.90 L205.32 138.37 L205.47 138.83 L205.63 139.30 L205.79 139.76 L205.95 140.23 L206.11 140.69 L206.28 141.15 L206.45 141.61 L206.62 142.07 L206.80 142.53 L206.99 142.98 L207.18 143.44 L207.38 143.89 L207.58 144.35 L207.79 144.80 L208.01 145.25 L208.23 145.69 L208.46 146.14 L208.70 146.58 L208.95 147.02 L209.21 147.46 L209.47 147.90 L209.75 148.34 L210.03 148.77 L210.33 149.20 L210.64 149.63 L210.95 150.06 L211.28 150.48 L211.61 150.90 L211.96 151.31 L212.31 151.72 L212.67 152.12 L213.04 152.51 L213.42 152.90 L213.80 153.27 L214.20 153.64 L214.59 154.00 L215.00 154.34 L215.41 154.68 L215.82 155.00 L216.24 155.31 L216.66 155.60 L217.09 155.88 L217.52 156.15 L217.96 156.40 L218.39 156.63 L218.83 156.84 L219.28 157.04 L219.72 157.22 L220.17 157.38 L220.62 157.52 L221.06 157.64 L221.51 157.74 L221.96 157.81 L222.41 157.86 L222.86 157.89 L223.31 157.90 L223.75 157.88 L224.20 157.85 L224.65 157.79 L225.09 157.72 L225.54 157.62 L225.98 157.51 L226.42 157.38 L226.87 157.24 L227.31 157.08 L227.75 156.90 L228.19 156.71 L228.64 156.51 L229.08 156.29 L229.52 156.07 L229.96 155.83 L230.40 155.58 L230.83 155.32 L231.27 155.06 L231.71 154.78 L232.15 154.50 L232.59 154.22 L233.02 153.93 L233.46 153.63 L233.90 153.33 L234.33 153.02 L234.77 152.72 L235.20 152.41 L235.63 152.10 L236.07 151.79 L236.50 151.48 L236.94 151.17 L237.37 150.87 L237.80 150.56 L238.23 150.26 L238.66 149.96 L239.10 149.67 L239.53 149.37 L239.96 149.08 L240.39 148.79 L240.82 148.51 L241.25 148.22 L241.67 147.94 L242.10 147.66 L242.53 147.37 L242.96 147.10 L243.39 146.82 L243.81 146.54 L244.24 146.27 L244.66 146.00 L245.09 145.72 L245.51 145.45 L245.94 145.18 L246.36 144.92 L246.78 144.65 L247.21 144.38 L247.63 144.12 L248.05 143.85 L248.47 143.59 L248.89 143.32 L249.31 143.06 L249.73 142.79 L250.15 142.53 L250.57 142.27 L250.99 142.01 L251.40 141.74 L251.82 141.48 L252.23 141.22 L252.65 140.95 L253.06 140.69 L253.48 140.43 L253.89 140.16 L254.31 139.90 L254.72 139.63 L255.13 139.37 L255.54 139.10 L255.95 138.84 L256.36 138.57 L256.77 138.30 L257.18 138.03 L257.58 137.76 L257.99 137.49 L258.40 137.21 L258.80 136.94 L259.21 136.66 L259.61 136.39 L260.01 136.11 L260.42 135.83 L260.82 135.55 L261.22 135.26 L261.62 134.98 L262.02 134.69 L262.42 134.40 L262.82 134.11 L263.22 133.82 L263.61 133.53 L264.01 133.23 L264.40 132.94 L264.80 132.64 L265.19 132.34 L265.59 132.04 L265.98 131.74 L266.37 131.44 L266.77 131.14 L267.16 130.83 L267.55 130.53 L267.94 130.22 L268.33 129.91 L268.72 129.60 L269.11 129.29 L269.49 128.98 L269.88 128.67 L270.27 128.35 L270.66 128.04 L271.04 127.72 L271.43 127.40 L271.81 127.09 L272.20 126.77 L272.58 126.45 L272.97 126.13 L273.35 125.81 L273.73 125.48 L274.11 125.16 L274.50 124.84 L274.88 124.51 L275.26 124.18 L275.64 123.86 L276.02 123.53 L276.40 123.20 L276.78 122.87 L277.16 122.55 L277.54 122.22 L277.92 121.88 L278.30 121.55 L278.68 121.22 L279.05 120.89 L279.43 120.56 L279.81 120.22 L280.19 119.89 L280.56 119.56 L280.94 119.22 L281.32 118.89 L281.69 118.55 L282.07 118.22 L282.44 117.88 L282.82 117.54 L283.19 117.21 L283.57 116.87 L283.94 116.53 L284.32 116.19 L284.69 115.86 L285.07 115.52 L285.44 115.18 L285.82 114.84 L286.19 114.50 L286.56 114.17 L286.94 113.83 L287.31 113.49 L287.69 113.15 L288.06 112.81 L288.43 112.47 L288.81 112.14 L289.18 111.80 L289.55 111.46 L289.92 111.12 L290.30 110.78 L290.67 110.45 L291.04 110.11 L291.42 109.77 L291.79 109.43 L292.16 109.10 L292.54 108.76 L292.91 108.42 L293.28 108.09 L293.66 107.75 L294.03 107.42 L294.40 107.08 L294.78 106.75 L295.15 106.41 L295.52 106.08 L295.90 105.74 L296.27 105.41 L296.64 105.08 L297.02 104.75 L297.39 104.42 L297.77 104.09 L298.14 103.76 L298.52 103.43 L298.89 103.10 L299.27 102.77 L299.65 102.44 L300.02 102.11 L300.40 101.79 L300.78 101.46 L301.15 101.13 L301.53 100.81 L301.91 100.49 L302.29 100.16 L302.67 99.84 L303.05 99.52 L303.43 99.20 L303.81 98.88 L304.19 98.56 L304.57 98.24 L304.95 97.92 L305.34 97.61 L305.72 97.29 L306.10 96.98 L306.49 96.66 L306.87 96.35 L307.26 96.04 L307.64 95.73 L308.03 95.42 L308.42 95.11 L308.81 94.80 L309.20 94.49 L309.59 94.19 L309.98 93.88 L310.37 93.58 L310.76 93.28 L311.16 92.98 L311.55 92.68 L311.94 92.38 L312.34 92.08 L312.74 91.78 L313.13 91.49 L313.53 91.19 L313.93 90.90 L314.33 90.61 L314.73 90.32 L315.14 90.03 L315.54 89.74 L315.94 89.46 L316.35 89.17 L316.76 88.89 L317.16 88.61 L317.57 88.33 L317.98 88.05 L318.39 87.77 L318.80 87.49 L319.22 87.22 L319.63 86.94 L320.05 86.67 L320.46 86.40 L320.88 86.13 L321.30 85.87 L321.72 85.60 L322.14 85.34 L322.56 85.07 L322.99 84.81 L323.41 84.55 L323.84 84.30 L324.27 84.04 L324.70 83.79 L325.13 83.54 L325.56 83.28 L325.99 83.04 L326.43 82.79 L326.87 82.54 L327.30 82.30 L327.74 82.06 L328.19 81.82 L328.63 81.58 L329.07 81.34 L329.52 81.11 L329.97 80.88 L330.41 80.65 L330.86 80.42 L331.32 80.19 L331.77 79.97 L332.23 79.75 L332.68 79.53 L333.14 79.31 L333.60 79.09 L334.06 78.88 L334.53 78.66 L334.99 78.45 L335.46 78.25 L335.93 78.04 L336.40 77.84 L336.87 77.64 L337.35 77.44" stroke="#2c2c2c" stroke-width="1.6"/>
</g>
<line x1="166.6" y1="41.3" x2="166.6" y2="31.9" stroke="#999" stroke-width="0.6"/>
<path d="M166.6 30.4 L165.5 33.0 L167.7 33.0 Z" fill="#444"/>
<text x="166.6" y="47.2" text-anchor="middle" font-size="5.4">N1</text>
<line x1="224.5" y1="114.9" x2="224.5" y2="124.7" stroke="#999" stroke-width="0.6"/>
<path d="M224.5 126.2 L223.4 123.6 L225.6 123.6 Z" fill="#444"/>
<text x="224.5" y="113.6" text-anchor="middle" font-size="5.4">P2</text>
<rect x="316.2" y="6.5" width="18.6" height="14.0" fill="#fff" stroke="#dcdcdc" stroke-width="0.9"/>
<line x1="316.8" y1="10.2" x2="325.5" y2="10.2" stroke="#868686" stroke-width="1.1"/>
<line x1="316.8" y1="17.0" x2="325.5" y2="17.0" stroke="#2c2c2c" stroke-width="1.5"/>
<text x="326.4" y="12.5" font-size="5.3">Std</text>
<text x="326.4" y="18.7" font-size="5.3">Trg</text>
<clipPath id="c2"><rect x="354.7" y="3.9" width="326.7" height="172.1"/></clipPath>
<line x1="409.3" y1="3.9" x2="409.3" y2="176.0" stroke="#c4c4c4" stroke-width="0.8" stroke-dasharray="1 1.3"/>
<line x1="354.7" y1="107.1" x2="681.4" y2="107.1" stroke="#9a9a9a" stroke-width="0.9"/>
<rect x="354.7" y="3.9" width="326.7" height="172.1" fill="none" stroke="#dedede" stroke-width="1.5"/>
<line x1="354.7" y1="3.8" x2="356.9" y2="3.8" stroke="#bbb" stroke-width="0.6"/>
<line x1="681.4" y1="3.8" x2="679.2" y2="3.8" stroke="#bbb" stroke-width="0.6"/>
<text x="352.5" y="6.5" text-anchor="end" font-size="6.1">-3</text>
<line x1="354.7" y1="38.3" x2="356.9" y2="38.3" stroke="#bbb" stroke-width="0.6"/>
<line x1="681.4" y1="38.3" x2="679.2" y2="38.3" stroke="#bbb" stroke-width="0.6"/>
<text x="352.5" y="41.0" text-anchor="end" font-size="6.1">-2</text>
<line x1="354.7" y1="72.7" x2="356.9" y2="72.7" stroke="#bbb" stroke-width="0.6"/>
<line x1="681.4" y1="72.7" x2="679.2" y2="72.7" stroke="#bbb" stroke-width="0.6"/>
<text x="352.5" y="75.4" text-anchor="end" font-size="6.1">-1</text>
<line x1="354.7" y1="107.1" x2="356.9" y2="107.1" stroke="#bbb" stroke-width="0.6"/>
<line x1="681.4" y1="107.1" x2="679.2" y2="107.1" stroke="#bbb" stroke-width="0.6"/>
<text x="352.5" y="109.8" text-anchor="end" font-size="6.1">0</text>
<line x1="354.7" y1="141.5" x2="356.9" y2="141.5" stroke="#bbb" stroke-width="0.6"/>
<line x1="681.4" y1="141.5" x2="679.2" y2="141.5" stroke="#bbb" stroke-width="0.6"/>
<text x="352.5" y="144.2" text-anchor="end" font-size="6.1">1</text>
<line x1="354.7" y1="175.9" x2="356.9" y2="175.9" stroke="#bbb" stroke-width="0.6"/>
<line x1="681.4" y1="175.9" x2="679.2" y2="175.9" stroke="#bbb" stroke-width="0.6"/>
<text x="352.5" y="178.6" text-anchor="end" font-size="6.1">2</text>
<line x1="354.7" y1="176.0" x2="354.7" y2="173.4" stroke="#bbb" stroke-width="0.6"/>
<line x1="354.7" y1="3.9" x2="354.7" y2="6.5" stroke="#bbb" stroke-width="0.6"/>
<text x="354.7" y="184.1" text-anchor="middle" font-size="6.1">-50</text>
<line x1="409.3" y1="176.0" x2="409.3" y2="173.4" stroke="#bbb" stroke-width="0.6"/>
<line x1="409.3" y1="3.9" x2="409.3" y2="6.5" stroke="#bbb" stroke-width="0.6"/>
<text x="409.3" y="184.1" text-anchor="middle" font-size="6.1">0</text>
<line x1="463.9" y1="176.0" x2="463.9" y2="173.4" stroke="#bbb" stroke-width="0.6"/>
<line x1="463.9" y1="3.9" x2="463.9" y2="6.5" stroke="#bbb" stroke-width="0.6"/>
<text x="463.9" y="184.1" text-anchor="middle" font-size="6.1">50</text>
<line x1="518.5" y1="176.0" x2="518.5" y2="173.4" stroke="#bbb" stroke-width="0.6"/>
<line x1="518.5" y1="3.9" x2="518.5" y2="6.5" stroke="#bbb" stroke-width="0.6"/>
<text x="518.5" y="184.1" text-anchor="middle" font-size="6.1">100</text>
<line x1="573.1" y1="176.0" x2="573.1" y2="173.4" stroke="#bbb" stroke-width="0.6"/>
<line x1="573.1" y1="3.9" x2="573.1" y2="6.5" stroke="#bbb" stroke-width="0.6"/>
<text x="573.1" y="184.1" text-anchor="middle" font-size="6.1">150</text>
<line x1="627.7" y1="176.0" x2="627.7" y2="173.4" stroke="#bbb" stroke-width="0.6"/>
<line x1="627.7" y1="3.9" x2="627.7" y2="6.5" stroke="#bbb" stroke-width="0.6"/>
<text x="627.7" y="184.1" text-anchor="middle" font-size="6.1">200</text>
<text x="518.4" y="192.4" text-anchor="middle" font-size="6.3">Latency (ms)</text>
<text transform="translate(345.9 90.0) rotate(-90)" text-anchor="middle" font-size="6.3">Potential (&#956;V)</text>
<text x="358.2" y="9.5" font-size="5.8" textLength="13.2" lengthAdjust="spacingAndGlyphs" style="stroke-width:0.3px">Ch 13</text>
<g clip-path="url(#c2)" fill="none" stroke-linejoin="round" stroke-linecap="round">
<path d="M354.70 106.74 L355.20 106.91 L355.70 107.06 L356.19 107.20 L356.69 107.33 L357.18 107.44 L357.68 107.54 L358.18 107.62 L358.67 107.70 L359.17 107.76 L359.66 107.82 L360.15 107.86 L360.65 107.89 L361.14 107.91 L361.64 107.93 L362.13 107.93 L362.62 107.92 L363.12 107.91 L363.61 107.89 L364.10 107.86 L364.60 107.83 L365.09 107.78 L365.58 107.73 L366.07 107.68 L366.57 107.62 L367.06 107.56 L367.55 107.49 L368.04 107.41 L368.54 107.34 L369.03 107.25 L369.52 107.17 L370.01 107.08 L370.51 107.00 L371.00 106.91 L371.49 106.81 L371.98 106.72 L372.47 106.63 L372.97 106.53 L373.46 106.44 L373.95 106.35 L374.44 106.26 L374.94 106.17 L375.43 106.08 L375.92 105.99 L376.41 105.91 L376.91 105.83 L377.40 105.75 L377.89 105.68 L378.39 105.61 L378.88 105.54 L379.37 105.49 L379.87 105.43 L380.36 105.38 L380.85 105.34 L381.35 105.31 L381.84 105.28 L382.34 105.26 L382.83 105.25 L383.33 105.24 L383.82 105.25 L384.32 105.26 L384.82 105.28 L385.31 105.30 L385.81 105.33 L386.30 105.37 L386.80 105.41 L387.30 105.46 L387.79 105.51 L388.29 105.57 L388.79 105.63 L389.28 105.70 L389.78 105.76 L390.28 105.84 L390.78 105.91 L391.27 105.99 L391.77 106.07 L392.27 106.15 L392.76 106.23 L393.26 106.31 L393.76 106.39 L394.25 106.47 L394.75 106.56 L395.25 106.64 L395.74 106.72 L396.24 106.80 L396.74 106.87 L397.23 106.95 L397.73 107.02 L398.22 107.09 L398.72 107.16 L399.22 107.22 L399.71 107.28 L400.21 107.33 L400.70 107.38 L401.19 107.42 L401.69 107.46 L402.18 107.49 L402.68 107.52 L403.17 107.54 L403.66 107.55 L404.15 107.56 L404.65 107.56 L405.14 107.55 L405.63 107.53 L406.12 107.50 L406.61 107.46 L407.10 107.42 L407.59 107.36 L408.08 107.29 L408.57 107.22 L409.05 107.13 L409.54 107.03 L410.03 106.92 L410.52 106.81 L411.00 106.69 L411.49 106.56 L411.98 106.43 L412.46 106.29 L412.95 106.15 L413.44 106.00 L413.92 105.86 L414.41 105.71 L414.90 105.56 L415.39 105.41 L415.87 105.27 L416.36 105.12 L416.85 104.98 L417.34 104.84 L417.83 104.71 L418.32 104.59 L418.81 104.47 L419.31 104.35 L419.80 104.25 L420.29 104.15 L420.79 104.07 L421.29 103.99 L421.78 103.93 L422.28 103.88 L422.78 103.84 L423.28 103.82 L423.79 103.81 L424.29 103.81 L424.79 103.83 L425.30 103.85 L425.81 103.88 L426.31 103.91 L426.82 103.95 L427.32 103.99 L427.83 104.04 L428.33 104.08 L428.84 104.12 L429.34 104.16 L429.84 104.19 L430.35 104.21 L430.85 104.23 L431.34 104.24 L431.84 104.23 L432.34 104.21 L432.83 104.18 L433.32 104.14 L433.81 104.09 L434.29 104.02 L434.78 103.94 L435.26 103.85 L435.74 103.75 L436.22 103.63 L436.70 103.51 L437.17 103.37 L437.64 103.23 L438.11 103.07 L438.58 102.91 L439.04 102.73 L439.50 102.55 L439.96 102.36 L440.42 102.15 L440.88 101.94 L441.33 101.72 L441.78 101.50 L442.23 101.26 L442.67 101.02 L443.11 100.77 L443.56 100.51 L443.99 100.24 L444.43 99.97 L444.86 99.70 L445.29 99.42 L445.72 99.14 L446.15 98.86 L446.58 98.58 L447.01 98.30 L447.44 98.02 L447.87 97.74 L448.30 97.47 L448.73 97.21 L449.16 96.95 L449.59 96.70 L450.02 96.46 L450.46 96.23 L450.90 96.01 L451.34 95.79 L451.78 95.59 L452.22 95.40 L452.67 95.21 L453.12 95.04 L453.57 94.87 L454.03 94.71 L454.48 94.56 L454.94 94.41 L455.41 94.28 L455.87 94.15 L456.34 94.03 L456.81 93.91 L457.28 93.80 L457.76 93.70 L458.24 93.60 L458.73 93.51 L459.22 93.42 L459.71 93.34 L460.20 93.26 L460.70 93.19 L461.21 93.13 L461.71 93.07 L462.22 93.01 L462.74 92.95 L463.26 92.90 L463.77 92.84 L464.29 92.79 L464.81 92.73 L465.32 92.67 L465.84 92.60 L466.35 92.53 L466.85 92.44 L467.35 92.35 L467.84 92.25 L468.33 92.13 L468.80 92.00 L469.27 91.85 L469.72 91.68 L470.17 91.51 L470.61 91.31 L471.03 91.10 L471.45 90.88 L471.86 90.64 L472.26 90.39 L472.65 90.13 L473.04 89.85 L473.41 89.56 L473.78 89.26 L474.13 88.95 L474.49 88.62 L474.83 88.29 L475.16 87.94 L475.49 87.59 L475.81 87.22 L476.13 86.85 L476.43 86.46 L476.73 86.07 L477.03 85.67 L477.31 85.26 L477.60 84.85 L477.87 84.43 L478.14 84.00 L478.40 83.56 L478.66 83.12 L478.92 82.68 L479.16 82.22 L479.41 81.77 L479.64 81.31 L479.88 80.84 L480.11 80.38 L480.33 79.90 L480.55 79.43 L480.77 78.95 L480.98 78.48 L481.19 78.00 L481.40 77.52 L481.60 77.03 L481.80 76.55 L482.00 76.07 L482.19 75.59 L482.38 75.11 L482.57 74.63 L482.76 74.15 L482.94 73.67 L483.13 73.20 L483.31 72.72 L483.49 72.25 L483.66 71.78 L483.84 71.31 L484.01 70.83 L484.18 70.37 L484.35 69.90 L484.52 69.43 L484.68 68.96 L484.85 68.50 L485.01 68.03 L485.17 67.57 L485.34 67.10 L485.50 66.64 L485.65 66.17 L485.81 65.71 L485.97 65.25 L486.12 64.79 L486.28 64.32 L486.43 63.86 L486.59 63.40 L486.74 62.94 L486.89 62.48 L487.05 62.02 L487.20 61.55 L487.35 61.09 L487.50 60.63 L487.65 60.17 L487.80 59.71 L487.95 59.24 L488.10 58.78 L488.25 58.32 L488.40 57.85 L488.56 57.39 L488.71 56.92 L488.86 56.45 L489.01 55.99 L489.16 55.52 L489.32 55.05 L489.47 54.58 L489.63 54.11 L489.78 53.64 L489.94 53.17 L490.09 52.70 L490.25 52.22 L490.41 51.75 L490.57 51.27 L490.73 50.79 L490.90 50.31 L491.06 49.83 L491.23 49.35 L491.39 48.86 L491.56 48.38 L491.74 47.89 L491.92 47.41 L492.10 46.92 L492.29 46.44 L492.48 45.95 L492.68 45.47 L492.89 44.98 L493.10 44.50 L493.32 44.02 L493.55 43.53 L493.79 43.05 L494.04 42.58 L494.29 42.10 L494.56 41.62 L494.84 41.15 L495.13 40.68 L495.43 40.21 L495.75 39.75 L496.08 39.29 L496.42 38.84 L496.76 38.41 L497.12 37.99 L497.48 37.59 L497.84 37.22 L498.21 36.89 L498.58 36.58 L498.95 36.32 L499.32 36.09 L499.68 35.92 L500.05 35.79 L500.40 35.72 L500.75 35.71 L501.09 35.76 L501.42 35.86 L501.74 36.03 L502.06 36.23 L502.36 36.49 L502.66 36.78 L502.96 37.11 L503.25 37.48 L503.53 37.87 L503.80 38.28 L504.07 38.72 L504.34 39.16 L504.60 39.62 L504.86 40.09 L505.11 40.56 L505.36 41.03 L505.60 41.50 L505.84 41.97 L506.08 42.44 L506.31 42.91 L506.54 43.38 L506.77 43.85 L506.99 44.32 L507.21 44.79 L507.42 45.26 L507.64 45.73 L507.84 46.21 L508.05 46.68 L508.25 47.15 L508.45 47.62 L508.65 48.10 L508.84 48.57 L509.03 49.04 L509.22 49.52 L509.40 49.99 L509.58 50.46 L509.76 50.94 L509.94 51.41 L510.11 51.89 L510.28 52.36 L510.45 52.84 L510.62 53.31 L510.78 53.79 L510.94 54.26 L511.10 54.74 L511.26 55.21 L511.41 55.69 L511.56 56.17 L511.71 56.64 L511.86 57.12 L512.01 57.60 L512.15 58.07 L512.29 58.55 L512.43 59.03 L512.57 59.51 L512.71 59.99 L512.84 60.46 L512.98 60.94 L513.11 61.42 L513.24 61.90 L513.37 62.38 L513.50 62.86 L513.62 63.34 L513.75 63.82 L513.87 64.30 L514.00 64.78 L514.12 65.26 L514.24 65.74 L514.36 66.22 L514.48 66.70 L514.60 67.18 L514.72 67.66 L514.83 68.14 L514.95 68.63 L515.06 69.11 L515.18 69.59 L515.29 70.07 L515.41 70.55 L515.52 71.04 L515.64 71.52 L515.75 72.00 L515.86 72.48 L515.97 72.97 L516.09 73.45 L516.20 73.93 L516.31 74.42 L516.42 74.90 L516.54 75.39 L516.65 75.87 L516.76 76.35 L516.88 76.84 L516.99 77.32 L517.10 77.81 L517.22 78.29 L517.33 78.78 L517.45 79.26 L517.56 79.75 L517.68 80.24 L517.80 80.72 L517.92 81.21 L518.04 81.69 L518.16 82.18 L518.28 82.67 L518.40 83.15 L518.52 83.64 L518.65 84.13 L518.77 84.61 L518.90 85.10 L519.03 85.59 L519.15 86.08 L519.28 86.56 L519.41 87.05 L519.55 87.54 L519.68 88.02 L519.81 88.51 L519.95 89.00 L520.09 89.48 L520.23 89.97 L520.37 90.45 L520.51 90.94 L520.65 91.43 L520.79 91.91 L520.94 92.39 L521.09 92.88 L521.23 93.36 L521.38 93.85 L521.54 94.33 L521.69 94.81 L521.84 95.29 L522.00 95.77 L522.16 96.26 L522.31 96.74 L522.48 97.22 L522.64 97.69 L522.80 98.17 L522.97 98.65 L523.13 99.13 L523.30 99.60 L523.47 100.08 L523.65 100.55 L523.82 101.03 L524.00 101.50 L524.18 101.97 L524.36 102.44 L524.54 102.91 L524.72 103.38 L524.91 103.85 L525.09 104.31 L525.28 104.78 L525.47 105.25 L525.67 105.71 L525.86 106.17 L526.06 106.63 L526.26 107.09 L526.46 107.55 L526.67 108.01 L526.87 108.47 L527.08 108.92 L527.29 109.37 L527.50 109.83 L527.72 110.28 L527.93 110.73 L528.15 111.17 L528.37 111.62 L528.60 112.07 L528.82 112.51 L529.05 112.95 L529.28 113.39 L529.51 113.83 L529.75 114.27 L529.99 114.70 L530.23 115.14 L530.47 115.57 L530.71 116.00 L530.96 116.43 L531.21 116.86 L531.47 117.28 L531.72 117.70 L531.98 118.12 L532.24 118.54 L532.50 118.96 L532.77 119.38 L533.04 119.79 L533.31 120.20 L533.58 120.61 L533.86 121.02 L534.14 121.42 L534.42 121.83 L534.70 122.23 L534.99 122.63 L535.28 123.02 L535.57 123.42 L535.87 123.81 L536.17 124.20 L536.47 124.58 L536.77 124.97 L537.08 125.35 L537.39 125.73 L537.71 126.11 L538.02 126.49 L538.34 126.86 L538.67 127.23 L538.99 127.60 L539.32 127.96 L539.65 128.33 L539.99 128.69 L540.32 129.05 L540.66 129.41 L541.00 129.76 L541.35 130.12 L541.69 130.47 L542.04 130.82 L542.39 131.18 L542.74 131.53 L543.10 131.88 L543.46 132.23 L543.81 132.57 L544.17 132.92 L544.53 133.27 L544.90 133.62 L545.26 133.96 L545.63 134.31 L545.99 134.66 L546.36 135.01 L546.73 135.36 L547.10 135.71 L547.47 136.06 L547.84 136.41 L548.21 136.76 L548.59 137.11 L548.96 137.47 L549.33 137.82 L549.71 138.18 L550.08 138.54 L550.46 138.90 L550.83 139.26 L551.20 139.63 L551.58 139.99 L551.95 140.36 L552.33 140.73 L552.70 141.11 L553.08 141.48 L553.45 141.86 L553.82 142.24 L554.19 142.63 L554.56 143.02 L554.93 143.40 L555.31 143.79 L555.68 144.17 L556.05 144.54 L556.43 144.91 L556.80 145.26 L557.18 145.60 L557.56 145.93 L557.95 146.25 L558.34 146.54 L558.73 146.82 L559.13 147.07 L559.53 147.31 L559.93 147.51 L560.34 147.69 L560.76 147.84 L561.18 147.95 L561.61 148.04 L562.05 148.08 L562.49 148.10 L562.94 148.07 L563.40 148.01 L563.86 147.92 L564.32 147.81 L564.78 147.66 L565.25 147.49 L565.71 147.29 L566.17 147.07 L566.63 146.83 L567.09 146.58 L567.54 146.31 L567.98 146.02 L568.42 145.72 L568.85 145.41 L569.27 145.09 L569.68 144.77 L570.08 144.44 L570.47 144.10 L570.86 143.75 L571.23 143.39 L571.60 143.03 L571.96 142.67 L572.31 142.30 L572.65 141.92 L572.99 141.53 L573.32 141.15 L573.65 140.75 L573.96 140.35 L574.27 139.95 L574.58 139.55 L574.88 139.14 L575.17 138.72 L575.46 138.31 L575.75 137.89 L576.03 137.47 L576.31 137.04 L576.58 136.62 L576.86 136.19 L577.13 135.76 L577.39 135.33 L577.66 134.90 L577.93 134.47 L578.20 134.05 L578.46 133.62 L578.73 133.19 L579.00 132.77 L579.27 132.34 L579.54 131.92 L579.82 131.51 L580.10 131.09 L580.39 130.68 L580.67 130.27 L580.97 129.87 L581.26 129.47 L581.57 129.08 L581.88 128.68 L582.19 128.30 L582.51 127.92 L582.83 127.54 L583.16 127.17 L583.49 126.80 L583.83 126.44 L584.17 126.08 L584.52 125.72 L584.87 125.37 L585.23 125.03 L585.58 124.69 L585.95 124.35 L586.32 124.02 L586.69 123.69 L587.06 123.37 L587.44 123.05 L587.83 122.74 L588.22 122.43 L588.61 122.13 L589.00 121.83 L589.40 121.53 L589.80 121.24 L590.21 120.96 L590.62 120.68 L591.03 120.40 L591.44 120.13 L591.86 119.86 L592.28 119.60 L592.71 119.34 L593.13 119.09 L593.56 118.84 L594.00 118.60 L594.43 118.36 L594.87 118.13 L595.31 117.90 L595.75 117.68 L596.20 117.46 L596.64 117.24 L597.09 117.03 L597.55 116.83 L598.00 116.63 L598.45 116.43 L598.91 116.24 L599.37 116.06 L599.83 115.88 L600.30 115.70 L600.76 115.53 L601.23 115.36 L601.69 115.19 L602.16 115.02 L602.63 114.86 L603.10 114.70 L603.57 114.53 L604.04 114.37 L604.51 114.20 L604.98 114.04 L605.45 113.87 L605.92 113.70 L606.39 113.52 L606.86 113.35 L607.33 113.16 L607.80 112.97 L608.27 112.78 L608.73 112.58 L609.20 112.37 L609.66 112.16 L610.13 111.95 L610.59 111.72 L611.05 111.50 L611.51 111.27 L611.97 111.04 L612.43 110.81 L612.89 110.57 L613.35 110.34 L613.81 110.11 L614.27 109.87 L614.72 109.64 L615.18 109.42 L615.64 109.19 L616.10 108.97 L616.56 108.75 L617.02 108.54 L617.48 108.34 L617.94 108.14 L618.40 107.95 L618.86 107.77 L619.33 107.59 L619.79 107.43 L620.26 107.28 L620.72 107.13 L621.19 107.00 L621.66 106.88 L622.13 106.77 L622.60 106.68 L623.07 106.60 L623.55 106.54 L624.03 106.49 L624.50 106.46 L624.98 106.45 L625.47 106.45 L625.95 106.48 L626.44 106.52 L626.93 106.58 L627.42 106.66 L627.92 106.76 L628.41 106.87 L628.91 107.00 L629.40 107.14 L629.90 107.28 L630.40 107.42 L630.89 107.56 L631.39 107.71 L631.88 107.85 L632.37 107.99 L632.86 108.13 L633.36 108.27 L633.85 108.41 L634.34 108.55 L634.83 108.68 L635.31 108.81 L635.80 108.94 L636.29 109.06 L636.78 109.18 L637.27 109.30 L637.75 109.41 L638.24 109.52 L638.73 109.62 L639.21 109.72 L639.70 109.81 L640.19 109.90 L640.67 109.98 L641.16 110.05 L641.65 110.12 L642.13 110.18 L642.62 110.24 L643.11 110.28 L643.60 110.32 L644.09 110.35 L644.58 110.38 L645.07 110.39 L645.56 110.39 L646.05 110.39 L646.54 110.37 L647.03 110.35 L647.52 110.32 L648.02 110.27 L648.51 110.22 L649.01 110.15 L649.51 110.08 L650.00 109.99 L650.50 109.91 L651.00 109.81 L651.50 109.71 L652.00 109.61 L652.50 109.51 L653.00 109.41 L653.50 109.31 L654.00 109.21 L654.50 109.11 L655.00 109.02 L655.50 108.93 L656.00 108.85 L656.50 108.78 L657.00 108.71 L657.50 108.66 L658.00 108.61 L658.49 108.58 L658.99 108.57 L659.49 108.56 L659.98 108.57 L660.48 108.60 L660.97 108.63 L661.46 108.68 L661.96 108.74 L662.45 108.81 L662.94 108.88 L663.43 108.97 L663.92 109.06 L664.41 109.16 L664.90 109.26 L665.39 109.37 L665.88 109.48 L666.37 109.60 L666.86 109.72 L667.35 109.84 L667.84 109.96 L668.33 110.08 L668.82 110.21 L669.31 110.33 L669.81 110.44 L670.30 110.56 L670.79 110.67 L671.28 110.78 L671.77 110.88 L672.27 110.97 L672.76 111.06 L673.26 111.14 L673.75 111.21 L674.25 111.27 L674.74 111.32 L675.24 111.36 L675.74 111.39 L676.24 111.41 L676.74 111.41 L677.24 111.40 L677.74 111.37 L678.25 111.33 L678.75 111.27 L679.26 111.20 L679.77 111.10 L680.28 110.99 L680.79 110.86 L681.30 110.70" stroke="#868686" stroke-width="1.45"/>
<path d="M354.71 106.70 L355.17 106.75 L355.63 106.84 L356.08 106.95 L356.53 107.08 L356.98 107.24 L357.43 107.42 L357.88 107.62 L358.33 107.83 L358.78 108.06 L359.22 108.31 L359.67 108.57 L360.11 108.84 L360.55 109.12 L361.00 109.41 L361.44 109.71 L361.89 110.01 L362.33 110.31 L362.77 110.62 L363.22 110.92 L363.67 111.23 L364.11 111.53 L364.56 111.82 L365.01 112.11 L365.47 112.39 L365.92 112.66 L366.37 112.92 L366.83 113.16 L367.29 113.39 L367.75 113.60 L368.22 113.80 L368.69 113.97 L369.15 114.13 L369.63 114.27 L370.10 114.40 L370.57 114.50 L371.04 114.59 L371.52 114.67 L371.99 114.72 L372.47 114.76 L372.95 114.79 L373.42 114.80 L373.89 114.79 L374.37 114.76 L374.84 114.73 L375.31 114.67 L375.78 114.60 L376.25 114.52 L376.71 114.42 L377.17 114.31 L377.63 114.18 L378.09 114.04 L378.54 113.89 L378.99 113.72 L379.44 113.54 L379.88 113.34 L380.31 113.14 L380.75 112.92 L381.18 112.68 L381.60 112.44 L382.02 112.18 L382.43 111.92 L382.85 111.64 L383.25 111.35 L383.66 111.06 L384.06 110.75 L384.46 110.44 L384.85 110.12 L385.25 109.80 L385.64 109.46 L386.03 109.13 L386.41 108.78 L386.80 108.43 L387.18 108.08 L387.56 107.73 L387.94 107.37 L388.32 107.01 L388.70 106.64 L389.08 106.28 L389.46 105.91 L389.84 105.55 L390.21 105.18 L390.59 104.82 L390.97 104.45 L391.34 104.09 L391.72 103.73 L392.10 103.38 L392.48 103.02 L392.86 102.68 L393.25 102.33 L393.63 101.99 L394.02 101.66 L394.41 101.33 L394.80 101.01 L395.19 100.70 L395.58 100.40 L395.98 100.10 L396.38 99.81 L396.79 99.54 L397.20 99.27 L397.61 99.01 L398.02 98.77 L398.44 98.53 L398.86 98.31 L399.29 98.10 L399.72 97.91 L400.16 97.72 L400.60 97.56 L401.04 97.40 L401.49 97.26 L401.95 97.13 L402.40 97.01 L402.86 96.91 L403.33 96.81 L403.80 96.73 L404.27 96.66 L404.74 96.59 L405.22 96.54 L405.70 96.50 L406.19 96.47 L406.68 96.45 L407.17 96.43 L407.66 96.43 L408.15 96.43 L408.65 96.45 L409.15 96.47 L409.65 96.49 L410.16 96.53 L410.66 96.57 L411.17 96.62 L411.68 96.67 L412.19 96.73 L412.70 96.79 L413.21 96.87 L413.73 96.94 L414.24 97.02 L414.76 97.11 L415.28 97.19 L415.79 97.29 L416.31 97.38 L416.83 97.48 L417.35 97.58 L417.86 97.69 L418.38 97.79 L418.90 97.90 L419.42 98.01 L419.94 98.12 L420.45 98.23 L420.97 98.34 L421.49 98.45 L422.00 98.57 L422.51 98.68 L423.03 98.79 L423.54 98.90 L424.05 99.01 L424.56 99.11 L425.06 99.22 L425.57 99.32 L426.07 99.42 L426.57 99.52 L427.07 99.61 L427.57 99.70 L428.06 99.79 L428.55 99.87 L429.05 99.95 L429.53 100.02 L430.02 100.08 L430.51 100.14 L430.99 100.19 L431.47 100.23 L431.95 100.27 L432.43 100.30 L432.90 100.31 L433.37 100.32 L433.85 100.32 L434.31 100.31 L434.78 100.29 L435.25 100.26 L435.71 100.21 L436.17 100.15 L436.63 100.08 L437.09 100.00 L437.55 99.91 L438.00 99.80 L438.45 99.67 L438.91 99.53 L439.35 99.38 L439.80 99.21 L440.25 99.02 L440.69 98.82 L441.13 98.60 L441.57 98.37 L442.01 98.12 L442.45 97.87 L442.89 97.60 L443.33 97.32 L443.77 97.04 L444.20 96.75 L444.64 96.45 L445.08 96.15 L445.52 95.85 L445.96 95.55 L446.40 95.24 L446.84 94.94 L447.28 94.64 L447.73 94.34 L448.17 94.05 L448.62 93.76 L449.07 93.48 L449.52 93.21 L449.97 92.95 L450.42 92.70 L450.87 92.47 L451.33 92.25 L451.78 92.04 L452.24 91.85 L452.70 91.68 L453.15 91.53 L453.61 91.40 L454.07 91.29 L454.54 91.20 L455.00 91.14 L455.46 91.11 L455.93 91.10 L456.39 91.12 L456.86 91.17 L457.33 91.24 L457.80 91.33 L458.27 91.45 L458.74 91.58 L459.21 91.74 L459.68 91.91 L460.16 92.09 L460.63 92.29 L461.11 92.50 L461.58 92.71 L462.06 92.94 L462.54 93.17 L463.01 93.41 L463.49 93.64 L463.97 93.88 L464.45 94.12 L464.93 94.36 L465.41 94.59 L465.89 94.81 L466.37 95.03 L466.85 95.24 L467.33 95.44 L467.81 95.62 L468.29 95.79 L468.77 95.94 L469.24 96.07 L469.72 96.18 L470.19 96.26 L470.65 96.32 L471.11 96.35 L471.57 96.34 L472.01 96.31 L472.46 96.24 L472.89 96.13 L473.32 95.99 L473.74 95.82 L474.15 95.62 L474.55 95.39 L474.93 95.13 L475.31 94.85 L475.67 94.54 L476.02 94.22 L476.36 93.87 L476.68 93.50 L476.99 93.12 L477.28 92.73 L477.56 92.31 L477.82 91.89 L478.08 91.45 L478.32 91.01 L478.55 90.55 L478.77 90.08 L478.99 89.61 L479.20 89.13 L479.40 88.65 L479.60 88.16 L479.79 87.68 L479.98 87.18 L480.17 86.69 L480.36 86.20 L480.54 85.71 L480.73 85.23 L480.91 84.74 L481.09 84.25 L481.27 83.77 L481.45 83.29 L481.63 82.80 L481.81 82.32 L481.99 81.84 L482.16 81.36 L482.34 80.88 L482.51 80.40 L482.68 79.93 L482.85 79.45 L483.02 78.97 L483.19 78.50 L483.36 78.02 L483.52 77.55 L483.69 77.08 L483.85 76.60 L484.01 76.13 L484.17 75.66 L484.33 75.19 L484.49 74.71 L484.65 74.24 L484.80 73.77 L484.96 73.30 L485.11 72.83 L485.26 72.36 L485.41 71.89 L485.56 71.42 L485.70 70.95 L485.85 70.48 L485.99 70.01 L486.14 69.54 L486.28 69.06 L486.42 68.59 L486.56 68.12 L486.69 67.65 L486.83 67.18 L486.96 66.70 L487.09 66.23 L487.22 65.76 L487.35 65.28 L487.48 64.81 L487.60 64.33 L487.73 63.86 L487.85 63.38 L487.97 62.90 L488.09 62.43 L488.21 61.95 L488.32 61.47 L488.44 60.99 L488.55 60.51 L488.66 60.02 L488.77 59.54 L488.87 59.06 L488.98 58.57 L489.09 58.08 L489.19 57.60 L489.30 57.11 L489.40 56.62 L489.50 56.13 L489.61 55.65 L489.72 55.16 L489.82 54.67 L489.93 54.18 L490.04 53.69 L490.16 53.20 L490.27 52.71 L490.39 52.22 L490.51 51.73 L490.63 51.24 L490.76 50.75 L490.89 50.26 L491.03 49.77 L491.17 49.29 L491.31 48.80 L491.46 48.31 L491.62 47.83 L491.78 47.34 L491.94 46.86 L492.11 46.37 L492.29 45.89 L492.48 45.41 L492.67 44.93 L492.87 44.45 L493.08 43.97 L493.29 43.50 L493.51 43.02 L493.74 42.55 L493.99 42.08 L494.23 41.61 L494.49 41.14 L494.76 40.67 L495.04 40.21 L495.33 39.75 L495.62 39.29 L495.93 38.84 L496.25 38.39 L496.57 37.96 L496.90 37.55 L497.24 37.16 L497.59 36.80 L497.94 36.46 L498.29 36.15 L498.65 35.88 L499.02 35.65 L499.38 35.46 L499.75 35.32 L500.12 35.23 L500.49 35.19 L500.85 35.20 L501.22 35.27 L501.59 35.39 L501.95 35.56 L502.32 35.77 L502.67 36.02 L503.03 36.30 L503.37 36.62 L503.72 36.97 L504.05 37.35 L504.38 37.75 L504.70 38.16 L505.01 38.60 L505.31 39.05 L505.60 39.51 L505.87 39.97 L506.14 40.44 L506.39 40.91 L506.64 41.38 L506.87 41.86 L507.09 42.34 L507.30 42.82 L507.51 43.31 L507.70 43.79 L507.89 44.28 L508.07 44.77 L508.24 45.26 L508.40 45.75 L508.56 46.24 L508.72 46.73 L508.87 47.23 L509.01 47.72 L509.15 48.22 L509.29 48.71 L509.42 49.21 L509.55 49.70 L509.68 50.20 L509.81 50.69 L509.93 51.19 L510.06 51.68 L510.18 52.17 L510.31 52.66 L510.43 53.16 L510.55 53.65 L510.67 54.14 L510.79 54.63 L510.91 55.12 L511.02 55.61 L511.14 56.10 L511.26 56.58 L511.37 57.07 L511.49 57.56 L511.60 58.05 L511.71 58.53 L511.82 59.02 L511.93 59.51 L512.04 59.99 L512.15 60.48 L512.26 60.96 L512.37 61.45 L512.48 61.93 L512.58 62.42 L512.69 62.90 L512.79 63.38 L512.90 63.87 L513.00 64.35 L513.11 64.84 L513.21 65.32 L513.32 65.80 L513.42 66.28 L513.52 66.77 L513.62 67.25 L513.73 67.73 L513.83 68.22 L513.93 68.70 L514.03 69.18 L514.13 69.66 L514.23 70.15 L514.33 70.63 L514.43 71.11 L514.53 71.59 L514.63 72.08 L514.73 72.56 L514.83 73.04 L514.93 73.53 L515.03 74.01 L515.13 74.49 L515.23 74.97 L515.33 75.46 L515.43 75.94 L515.53 76.43 L515.63 76.91 L515.73 77.39 L515.83 77.88 L515.93 78.36 L516.04 78.85 L516.14 79.33 L516.24 79.82 L516.34 80.30 L516.44 80.79 L516.55 81.28 L516.65 81.76 L516.75 82.25 L516.86 82.74 L516.96 83.23 L517.07 83.71 L517.17 84.20 L517.28 84.69 L517.38 85.18 L517.49 85.67 L517.60 86.16 L517.71 86.65 L517.81 87.14 L517.92 87.63 L518.03 88.12 L518.14 88.61 L518.26 89.10 L518.37 89.59 L518.48 90.08 L518.60 90.58 L518.71 91.07 L518.83 91.56 L518.94 92.05 L519.06 92.54 L519.18 93.03 L519.30 93.52 L519.42 94.01 L519.54 94.50 L519.66 94.99 L519.78 95.49 L519.91 95.98 L520.03 96.47 L520.16 96.96 L520.28 97.45 L520.41 97.94 L520.54 98.42 L520.67 98.91 L520.80 99.40 L520.94 99.89 L521.07 100.38 L521.21 100.87 L521.34 101.35 L521.48 101.84 L521.62 102.33 L521.76 102.81 L521.90 103.30 L522.04 103.78 L522.19 104.27 L522.33 104.75 L522.48 105.23 L522.63 105.71 L522.78 106.20 L522.93 106.68 L523.09 107.16 L523.24 107.64 L523.40 108.12 L523.56 108.59 L523.72 109.07 L523.88 109.55 L524.04 110.02 L524.21 110.50 L524.37 110.97 L524.54 111.45 L524.71 111.92 L524.88 112.39 L525.06 112.86 L525.23 113.33 L525.41 113.80 L525.59 114.27 L525.77 114.74 L525.95 115.20 L526.13 115.67 L526.32 116.13 L526.51 116.59 L526.70 117.05 L526.89 117.51 L527.09 117.97 L527.28 118.43 L527.48 118.89 L527.68 119.34 L527.89 119.80 L528.09 120.25 L528.30 120.70 L528.51 121.15 L528.72 121.60 L528.93 122.05 L529.15 122.49 L529.37 122.94 L529.59 123.38 L529.81 123.82 L530.04 124.26 L530.26 124.70 L530.49 125.14 L530.73 125.58 L530.96 126.01 L531.20 126.44 L531.44 126.87 L531.68 127.30 L531.93 127.73 L532.17 128.16 L532.42 128.58 L532.68 129.00 L532.93 129.43 L533.19 129.85 L533.45 130.26 L533.71 130.68 L533.97 131.09 L534.24 131.51 L534.51 131.92 L534.78 132.33 L535.06 132.74 L535.33 133.15 L535.61 133.56 L535.89 133.96 L536.17 134.37 L536.46 134.77 L536.74 135.17 L537.03 135.57 L537.32 135.97 L537.61 136.37 L537.91 136.77 L538.20 137.17 L538.50 137.57 L538.80 137.96 L539.10 138.36 L539.40 138.75 L539.70 139.15 L540.01 139.54 L540.32 139.93 L540.62 140.33 L540.93 140.72 L541.24 141.11 L541.56 141.50 L541.87 141.89 L542.19 142.28 L542.50 142.67 L542.82 143.06 L543.14 143.45 L543.46 143.84 L543.78 144.23 L544.10 144.62 L544.43 145.01 L544.75 145.40 L545.08 145.79 L545.40 146.18 L545.73 146.57 L546.06 146.96 L546.38 147.35 L546.71 147.74 L547.04 148.13 L547.37 148.52 L547.71 148.92 L548.04 149.31 L548.37 149.70 L548.70 150.09 L549.04 150.49 L549.37 150.88 L549.71 151.28 L550.04 151.67 L550.38 152.07 L550.71 152.47 L551.05 152.86 L551.38 153.26 L551.72 153.66 L552.06 154.06 L552.39 154.46 L552.73 154.87 L553.07 155.27 L553.40 155.68 L553.74 156.08 L554.08 156.49 L554.41 156.89 L554.75 157.30 L555.09 157.70 L555.43 158.10 L555.77 158.49 L556.12 158.87 L556.47 159.23 L556.82 159.59 L557.18 159.93 L557.54 160.25 L557.90 160.56 L558.28 160.85 L558.65 161.11 L559.04 161.35 L559.43 161.56 L559.83 161.75 L560.24 161.91 L560.66 162.04 L561.08 162.13 L561.52 162.19 L561.97 162.21 L562.42 162.20 L562.88 162.16 L563.34 162.09 L563.81 161.99 L564.28 161.86 L564.76 161.71 L565.23 161.53 L565.70 161.33 L566.17 161.10 L566.63 160.86 L567.09 160.60 L567.54 160.32 L567.98 160.03 L568.41 159.72 L568.84 159.39 L569.25 159.06 L569.64 158.72 L570.03 158.37 L570.40 158.01 L570.77 157.64 L571.13 157.26 L571.48 156.88 L571.82 156.49 L572.15 156.10 L572.48 155.71 L572.81 155.31 L573.13 154.91 L573.45 154.51 L573.77 154.10 L574.08 153.70 L574.40 153.30 L574.71 152.91 L575.03 152.51 L575.35 152.12 L575.67 151.73 L576.00 151.34 L576.32 150.96 L576.65 150.58 L576.98 150.21 L577.31 149.83 L577.65 149.47 L577.99 149.10 L578.33 148.74 L578.67 148.38 L579.01 148.02 L579.36 147.67 L579.71 147.32 L580.06 146.98 L580.41 146.63 L580.77 146.30 L581.13 145.96 L581.49 145.63 L581.86 145.30 L582.22 144.97 L582.59 144.65 L582.97 144.33 L583.34 144.02 L583.72 143.71 L584.10 143.40 L584.49 143.09 L584.88 142.79 L585.27 142.49 L585.66 142.20 L586.06 141.91 L586.46 141.62 L586.86 141.33 L587.27 141.05 L587.67 140.77 L588.09 140.50 L588.50 140.23 L588.92 139.96 L589.34 139.69 L589.77 139.43 L590.20 139.17 L590.63 138.92 L591.07 138.67 L591.51 138.42 L591.95 138.17 L592.39 137.92 L592.83 137.68 L593.27 137.43 L593.71 137.18 L594.15 136.94 L594.60 136.69 L595.04 136.43 L595.47 136.18 L595.91 135.92 L596.34 135.66 L596.77 135.40 L597.19 135.13 L597.61 134.86 L598.03 134.58 L598.44 134.29 L598.84 134.00 L599.24 133.70 L599.63 133.39 L600.02 133.07 L600.40 132.75 L600.77 132.41 L601.13 132.07 L601.49 131.73 L601.84 131.37 L602.19 131.01 L602.53 130.65 L602.87 130.28 L603.20 129.90 L603.53 129.52 L603.85 129.13 L604.17 128.74 L604.48 128.34 L604.79 127.94 L605.10 127.54 L605.41 127.13 L605.71 126.72 L606.01 126.31 L606.31 125.90 L606.60 125.48 L606.90 125.06 L607.19 124.64 L607.48 124.22 L607.77 123.80 L608.06 123.37 L608.35 122.95 L608.64 122.53 L608.93 122.10 L609.22 121.68 L609.51 121.26 L609.80 120.84 L610.10 120.42 L610.39 120.01 L610.68 119.59 L610.98 119.18 L611.28 118.77 L611.58 118.37 L611.89 117.97 L612.20 117.57 L612.51 117.17 L612.82 116.78 L613.14 116.40 L613.46 116.02 L613.79 115.64 L614.12 115.28 L614.45 114.91 L614.79 114.56 L615.14 114.21 L615.49 113.86 L615.85 113.53 L616.21 113.20 L616.58 112.88 L616.96 112.56 L617.34 112.26 L617.73 111.96 L618.13 111.68 L618.53 111.40 L618.94 111.13 L619.36 110.87 L619.79 110.62 L620.22 110.38 L620.65 110.14 L621.10 109.91 L621.54 109.69 L621.99 109.48 L622.45 109.27 L622.91 109.07 L623.37 108.87 L623.84 108.69 L624.30 108.50 L624.78 108.33 L625.25 108.15 L625.73 107.99 L626.20 107.83 L626.68 107.67 L627.16 107.52 L627.64 107.37 L628.12 107.22 L628.60 107.08 L629.09 106.94 L629.57 106.81 L630.05 106.68 L630.54 106.55 L631.02 106.43 L631.51 106.31 L631.99 106.19 L632.48 106.07 L632.96 105.96 L633.45 105.85 L633.94 105.74 L634.42 105.63 L634.91 105.53 L635.40 105.42 L635.89 105.32 L636.38 105.22 L636.87 105.12 L637.36 105.02 L637.85 104.93 L638.34 104.83 L638.83 104.74 L639.32 104.64 L639.81 104.55 L640.31 104.45 L640.80 104.36 L641.29 104.27 L641.78 104.17 L642.28 104.08 L642.77 103.98 L643.26 103.89 L643.76 103.79 L644.25 103.70 L644.75 103.60 L645.24 103.51 L645.74 103.42 L646.23 103.32 L646.73 103.24 L647.22 103.15 L647.71 103.07 L648.21 102.99 L648.70 102.92 L649.20 102.85 L649.69 102.79 L650.19 102.73 L650.68 102.68 L651.18 102.64 L651.67 102.60 L652.17 102.57 L652.66 102.55 L653.15 102.54 L653.65 102.54 L654.14 102.55 L654.63 102.56 L655.13 102.59 L655.62 102.62 L656.11 102.66 L656.60 102.71 L657.09 102.77 L657.59 102.83 L658.08 102.90 L658.57 102.98 L659.06 103.06 L659.55 103.15 L660.04 103.24 L660.54 103.33 L661.03 103.44 L661.52 103.54 L662.01 103.65 L662.50 103.76 L662.99 103.87 L663.48 103.99 L663.97 104.11 L664.46 104.23 L664.96 104.35 L665.45 104.47 L665.94 104.59 L666.43 104.71 L666.92 104.84 L667.41 104.96 L667.91 105.08 L668.40 105.19 L668.89 105.31 L669.38 105.42 L669.88 105.54 L670.37 105.64 L670.86 105.75 L671.35 105.85 L671.85 105.95 L672.34 106.04 L672.84 106.13 L673.33 106.21 L673.83 106.28 L674.32 106.35 L674.82 106.42 L675.31 106.47 L675.81 106.52 L676.30 106.56 L676.80 106.60 L677.30 106.62 L677.80 106.64 L678.29 106.65 L678.79 106.64 L679.29 106.63 L679.79 106.61 L680.29 106.58 L680.79 106.53 L681.29 106.48" stroke="#2c2c2c" stroke-width="1.6"/>
</g>
<line x1="500.9" y1="51.0" x2="500.9" y2="42.3" stroke="#999" stroke-width="0.6"/>
<path d="M500.9 40.8 L499.8 43.4 L502.0 43.4 Z" fill="#444"/>
<text x="500.9" y="57.9" text-anchor="middle" font-size="5.4">N1</text>
<line x1="562.1" y1="131.5" x2="562.1" y2="141.4" stroke="#999" stroke-width="0.6"/>
<path d="M562.1 142.9 L561.0 140.3 L563.2 140.3 Z" fill="#444"/>
<text x="562.1" y="130.0" text-anchor="middle" font-size="5.4">P2</text>
<rect x="660.2" y="5.9" width="18.6" height="14.0" fill="#fff" stroke="#dcdcdc" stroke-width="0.9"/>
<line x1="660.8" y1="9.6" x2="669.5" y2="9.6" stroke="#868686" stroke-width="1.1"/>
<line x1="660.8" y1="16.4" x2="669.5" y2="16.4" stroke="#2c2c2c" stroke-width="1.5"/>
<text x="670.4" y="11.9" font-size="5.3">Std</text>
<text x="670.4" y="18.1" font-size="5.3">Trg</text>
<clipPath id="c3"><rect x="18.2" y="201.5" width="322.0" height="169.5"/></clipPath>
<line x1="72.0" y1="201.5" x2="72.0" y2="371.0" stroke="#c4c4c4" stroke-width="0.8" stroke-dasharray="1 1.3"/>
<line x1="18.2" y1="303.2" x2="340.2" y2="303.2" stroke="#9a9a9a" stroke-width="0.9"/>
<rect x="18.2" y="201.5" width="322.0" height="169.5" fill="none" stroke="#dedede" stroke-width="1.5"/>
<line x1="18.2" y1="201.5" x2="20.4" y2="201.5" stroke="#bbb" stroke-width="0.6"/>
<line x1="340.2" y1="201.5" x2="338.0" y2="201.5" stroke="#bbb" stroke-width="0.6"/>
<text x="16.0" y="204.2" text-anchor="end" font-size="6.1">-3</text>
<line x1="18.2" y1="235.4" x2="20.4" y2="235.4" stroke="#bbb" stroke-width="0.6"/>
<line x1="340.2" y1="235.4" x2="338.0" y2="235.4" stroke="#bbb" stroke-width="0.6"/>
<text x="16.0" y="238.1" text-anchor="end" font-size="6.1">-2</text>
<line x1="18.2" y1="269.3" x2="20.4" y2="269.3" stroke="#bbb" stroke-width="0.6"/>
<line x1="340.2" y1="269.3" x2="338.0" y2="269.3" stroke="#bbb" stroke-width="0.6"/>
<text x="16.0" y="272.0" text-anchor="end" font-size="6.1">-1</text>
<line x1="18.2" y1="303.2" x2="20.4" y2="303.2" stroke="#bbb" stroke-width="0.6"/>
<line x1="340.2" y1="303.2" x2="338.0" y2="303.2" stroke="#bbb" stroke-width="0.6"/>
<text x="16.0" y="305.9" text-anchor="end" font-size="6.1">0</text>
<line x1="18.2" y1="337.1" x2="20.4" y2="337.1" stroke="#bbb" stroke-width="0.6"/>
<line x1="340.2" y1="337.1" x2="338.0" y2="337.1" stroke="#bbb" stroke-width="0.6"/>
<text x="16.0" y="339.8" text-anchor="end" font-size="6.1">1</text>
<line x1="18.2" y1="371.0" x2="20.4" y2="371.0" stroke="#bbb" stroke-width="0.6"/>
<line x1="340.2" y1="371.0" x2="338.0" y2="371.0" stroke="#bbb" stroke-width="0.6"/>
<text x="16.0" y="373.7" text-anchor="end" font-size="6.1">2</text>
<line x1="18.2" y1="371.0" x2="18.2" y2="368.4" stroke="#bbb" stroke-width="0.6"/>
<line x1="18.2" y1="201.5" x2="18.2" y2="204.1" stroke="#bbb" stroke-width="0.6"/>
<text x="18.2" y="379.1" text-anchor="middle" font-size="6.1">-50</text>
<line x1="72.0" y1="371.0" x2="72.0" y2="368.4" stroke="#bbb" stroke-width="0.6"/>
<line x1="72.0" y1="201.5" x2="72.0" y2="204.1" stroke="#bbb" stroke-width="0.6"/>
<text x="72.0" y="379.1" text-anchor="middle" font-size="6.1">0</text>
<line x1="125.8" y1="371.0" x2="125.8" y2="368.4" stroke="#bbb" stroke-width="0.6"/>
<line x1="125.8" y1="201.5" x2="125.8" y2="204.1" stroke="#bbb" stroke-width="0.6"/>
<text x="125.8" y="379.1" text-anchor="middle" font-size="6.1">50</text>
<line x1="179.6" y1="371.0" x2="179.6" y2="368.4" stroke="#bbb" stroke-width="0.6"/>
<line x1="179.6" y1="201.5" x2="179.6" y2="204.1" stroke="#bbb" stroke-width="0.6"/>
<text x="179.6" y="379.1" text-anchor="middle" font-size="6.1">100</text>
<line x1="233.4" y1="371.0" x2="233.4" y2="368.4" stroke="#bbb" stroke-width="0.6"/>
<line x1="233.4" y1="201.5" x2="233.4" y2="204.1" stroke="#bbb" stroke-width="0.6"/>
<text x="233.4" y="379.1" text-anchor="middle" font-size="6.1">150</text>
<line x1="287.2" y1="371.0" x2="287.2" y2="368.4" stroke="#bbb" stroke-width="0.6"/>
<line x1="287.2" y1="201.5" x2="287.2" y2="204.1" stroke="#bbb" stroke-width="0.6"/>
<text x="287.2" y="379.1" text-anchor="middle" font-size="6.1">200</text>
<text x="179.6" y="387.4" text-anchor="middle" font-size="6.3">Latency (ms)</text>
<text transform="translate(9.4 286.2) rotate(-90)" text-anchor="middle" font-size="6.3">Potential (&#956;V)</text>
<text x="20.0" y="207.6" font-size="5.8" textLength="13.2" lengthAdjust="spacingAndGlyphs" style="stroke-width:0.3px">Ch 19</text>
<g clip-path="url(#c3)" fill="none" stroke-linejoin="round" stroke-linecap="round">
<path d="M18.20 296.17 L18.67 296.29 L19.14 296.43 L19.61 296.58 L20.07 296.74 L20.53 296.92 L20.99 297.11 L21.45 297.31 L21.90 297.52 L22.36 297.74 L22.81 297.96 L23.26 298.20 L23.71 298.44 L24.16 298.68 L24.62 298.93 L25.07 299.18 L25.52 299.43 L25.96 299.69 L26.41 299.94 L26.86 300.20 L27.31 300.45 L27.77 300.70 L28.22 300.94 L28.67 301.19 L29.12 301.42 L29.58 301.65 L30.03 301.88 L30.49 302.09 L30.95 302.29 L31.41 302.49 L31.87 302.67 L32.33 302.84 L32.80 303.00 L33.27 303.15 L33.74 303.28 L34.21 303.39 L34.69 303.49 L35.17 303.57 L35.65 303.63 L36.14 303.67 L36.62 303.69 L37.12 303.69 L37.61 303.68 L38.10 303.66 L38.60 303.62 L39.10 303.57 L39.60 303.52 L40.11 303.46 L40.61 303.39 L41.11 303.33 L41.62 303.26 L42.12 303.20 L42.62 303.14 L43.12 303.08 L43.63 303.04 L44.13 303.00 L44.62 302.97 L45.12 302.96 L45.62 302.96 L46.11 302.96 L46.61 302.98 L47.10 303.00 L47.59 303.03 L48.08 303.08 L48.57 303.13 L49.06 303.18 L49.54 303.25 L50.03 303.32 L50.52 303.39 L51.00 303.48 L51.49 303.57 L51.97 303.66 L52.45 303.76 L52.94 303.86 L53.42 303.97 L53.90 304.08 L54.39 304.19 L54.87 304.30 L55.35 304.42 L55.83 304.54 L56.32 304.66 L56.80 304.78 L57.28 304.90 L57.77 305.03 L58.25 305.15 L58.73 305.27 L59.22 305.39 L59.70 305.51 L60.19 305.63 L60.68 305.74 L61.16 305.85 L61.65 305.96 L62.14 306.07 L62.63 306.17 L63.12 306.27 L63.61 306.37 L64.10 306.46 L64.59 306.55 L65.09 306.64 L65.58 306.73 L66.07 306.81 L66.57 306.89 L67.06 306.96 L67.55 307.03 L68.05 307.10 L68.54 307.17 L69.04 307.23 L69.53 307.28 L70.03 307.34 L70.52 307.39 L71.02 307.43 L71.51 307.48 L72.01 307.51 L72.50 307.55 L73.00 307.58 L73.49 307.61 L73.99 307.63 L74.48 307.66 L74.98 307.68 L75.47 307.69 L75.97 307.71 L76.46 307.73 L76.95 307.74 L77.45 307.76 L77.94 307.77 L78.44 307.79 L78.93 307.80 L79.42 307.82 L79.92 307.84 L80.41 307.86 L80.90 307.88 L81.39 307.91 L81.89 307.94 L82.38 307.97 L82.87 308.00 L83.36 308.04 L83.85 308.09 L84.34 308.13 L84.83 308.19 L85.32 308.25 L85.81 308.31 L86.30 308.38 L86.79 308.46 L87.28 308.54 L87.77 308.63 L88.25 308.73 L88.74 308.83 L89.23 308.95 L89.71 309.07 L90.20 309.20 L90.68 309.35 L91.17 309.50 L91.65 309.66 L92.14 309.82 L92.62 310.00 L93.10 310.18 L93.58 310.36 L94.07 310.55 L94.55 310.73 L95.03 310.92 L95.51 311.11 L96.00 311.29 L96.48 311.47 L96.96 311.64 L97.44 311.81 L97.93 311.97 L98.41 312.12 L98.89 312.26 L99.38 312.38 L99.86 312.50 L100.35 312.60 L100.83 312.68 L101.32 312.75 L101.80 312.80 L102.29 312.84 L102.78 312.87 L103.27 312.88 L103.76 312.88 L104.25 312.87 L104.74 312.85 L105.23 312.82 L105.72 312.78 L106.21 312.73 L106.70 312.68 L107.19 312.62 L107.68 312.55 L108.18 312.48 L108.67 312.40 L109.16 312.33 L109.66 312.25 L110.15 312.16 L110.65 312.08 L111.14 312.00 L111.64 311.91 L112.13 311.83 L112.63 311.75 L113.12 311.67 L113.62 311.60 L114.11 311.53 L114.61 311.47 L115.11 311.41 L115.60 311.37 L116.10 311.32 L116.60 311.29 L117.09 311.26 L117.59 311.25 L118.09 311.25 L118.59 311.25 L119.08 311.28 L119.58 311.31 L120.08 311.36 L120.58 311.42 L121.07 311.50 L121.57 311.59 L122.07 311.69 L122.57 311.81 L123.06 311.93 L123.56 312.07 L124.05 312.21 L124.55 312.36 L125.04 312.52 L125.54 312.68 L126.03 312.84 L126.52 313.01 L127.02 313.17 L127.51 313.34 L128.00 313.50 L128.48 313.66 L128.97 313.82 L129.46 313.97 L129.94 314.12 L130.42 314.26 L130.91 314.38 L131.39 314.50 L131.86 314.61 L132.34 314.71 L132.81 314.79 L133.29 314.85 L133.76 314.90 L134.23 314.94 L134.69 314.95 L135.16 314.95 L135.62 314.92 L136.08 314.87 L136.54 314.80 L136.99 314.70 L137.45 314.58 L137.90 314.44 L138.34 314.27 L138.78 314.08 L139.22 313.87 L139.65 313.64 L140.08 313.39 L140.50 313.12 L140.91 312.84 L141.32 312.54 L141.72 312.23 L142.11 311.90 L142.50 311.56 L142.87 311.21 L143.24 310.85 L143.59 310.48 L143.94 310.10 L144.28 309.71 L144.60 309.32 L144.91 308.92 L145.22 308.52 L145.51 308.11 L145.79 307.70 L146.06 307.29 L146.33 306.88 L146.59 306.46 L146.85 306.04 L147.10 305.61 L147.35 305.19 L147.61 304.76 L147.86 304.34 L148.12 303.91 L148.38 303.48 L148.64 303.05 L148.91 302.63 L149.19 302.20 L149.48 301.78 L149.78 301.35 L150.09 300.93 L150.40 300.52 L150.73 300.10 L151.07 299.69 L151.41 299.29 L151.76 298.89 L152.12 298.50 L152.49 298.12 L152.86 297.75 L153.25 297.38 L153.63 297.03 L154.03 296.68 L154.43 296.35 L154.84 296.03 L155.25 295.73 L155.67 295.43 L156.09 295.16 L156.52 294.89 L156.95 294.65 L157.39 294.42 L157.83 294.21 L158.27 294.02 L158.72 293.84 L159.17 293.69 L159.62 293.56 L160.07 293.45 L160.53 293.36 L160.99 293.30 L161.45 293.26 L161.91 293.25 L162.37 293.26 L162.83 293.30 L163.29 293.36 L163.76 293.44 L164.22 293.55 L164.67 293.68 L165.13 293.84 L165.58 294.01 L166.03 294.21 L166.47 294.42 L166.91 294.65 L167.34 294.90 L167.77 295.16 L168.19 295.44 L168.61 295.74 L169.01 296.05 L169.41 296.37 L169.80 296.70 L170.17 297.05 L170.54 297.41 L170.90 297.77 L171.25 298.15 L171.58 298.53 L171.90 298.92 L172.21 299.32 L172.51 299.73 L172.80 300.14 L173.08 300.56 L173.35 300.98 L173.62 301.41 L173.87 301.85 L174.11 302.29 L174.35 302.73 L174.58 303.18 L174.81 303.64 L175.03 304.09 L175.24 304.55 L175.45 305.02 L175.65 305.48 L175.85 305.95 L176.05 306.42 L176.24 306.89 L176.44 307.37 L176.62 307.84 L176.81 308.32 L177.00 308.79 L177.18 309.27 L177.37 309.75 L177.56 310.22 L177.74 310.70 L177.93 311.17 L178.12 311.64 L178.32 312.11 L178.51 312.58 L178.71 313.04 L178.91 313.51 L179.12 313.96 L179.33 314.42 L179.55 314.87 L179.78 315.32 L180.00 315.76 L180.24 316.20 L180.48 316.63 L180.74 317.06 L181.00 317.48 L181.26 317.90 L181.54 318.31 L181.83 318.71 L182.13 319.11 L182.43 319.50 L182.75 319.88 L183.08 320.25 L183.42 320.62 L183.77 320.97 L184.12 321.32 L184.49 321.66 L184.86 321.98 L185.25 322.30 L185.64 322.61 L186.04 322.91 L186.45 323.20 L186.86 323.47 L187.28 323.74 L187.71 323.99 L188.14 324.24 L188.59 324.47 L189.03 324.69 L189.49 324.89 L189.94 325.08 L190.41 325.26 L190.88 325.43 L191.35 325.58 L191.83 325.72 L192.31 325.84 L192.80 325.95 L193.29 326.05 L193.78 326.13 L194.27 326.19 L194.77 326.24 L195.27 326.27 L195.78 326.29 L196.28 326.29 L196.79 326.28 L197.30 326.26 L197.81 326.23 L198.32 326.19 L198.82 326.16 L199.33 326.12 L199.84 326.08 L200.35 326.04 L200.86 326.01 L201.36 325.98 L201.87 325.96 L202.37 325.95 L202.87 325.96 L203.37 325.98 L203.86 326.01 L204.35 326.06 L204.84 326.13 L205.32 326.21 L205.81 326.30 L206.29 326.40 L206.76 326.51 L207.24 326.64 L207.72 326.78 L208.19 326.92 L208.66 327.08 L209.13 327.24 L209.60 327.41 L210.06 327.59 L210.53 327.78 L210.99 327.97 L211.45 328.17 L211.91 328.37 L212.38 328.58 L212.84 328.79 L213.29 329.01 L213.75 329.23 L214.21 329.45 L214.67 329.67 L215.13 329.89 L215.59 330.12 L216.05 330.34 L216.50 330.56 L216.96 330.78 L217.42 331.00 L217.88 331.22 L218.34 331.43 L218.81 331.64 L219.27 331.85 L219.73 332.05 L220.20 332.24 L220.66 332.43 L221.13 332.61 L221.60 332.78 L222.07 332.95 L222.54 333.11 L223.01 333.26 L223.49 333.39 L223.97 333.52 L224.44 333.64 L224.93 333.75 L225.41 333.84 L225.90 333.92 L226.39 333.99 L226.88 334.04 L227.37 334.08 L227.87 334.11 L228.36 334.12 L228.85 334.11 L229.34 334.08 L229.83 334.04 L230.32 333.98 L230.80 333.90 L231.27 333.80 L231.75 333.68 L232.21 333.54 L232.67 333.38 L233.13 333.20 L233.57 333.00 L234.01 332.78 L234.45 332.55 L234.88 332.30 L235.30 332.04 L235.72 331.76 L236.13 331.48 L236.53 331.18 L236.93 330.87 L237.33 330.55 L237.72 330.23 L238.10 329.90 L238.48 329.56 L238.85 329.22 L239.22 328.87 L239.58 328.52 L239.94 328.16 L240.30 327.80 L240.65 327.44 L241.00 327.07 L241.34 326.70 L241.68 326.33 L242.02 325.96 L242.36 325.58 L242.70 325.20 L243.03 324.82 L243.36 324.44 L243.69 324.06 L244.02 323.68 L244.35 323.29 L244.68 322.91 L245.01 322.53 L245.34 322.15 L245.67 321.77 L246.00 321.39 L246.33 321.01 L246.66 320.63 L246.99 320.26 L247.33 319.89 L247.67 319.52 L248.01 319.16 L248.35 318.80 L248.69 318.44 L249.04 318.09 L249.40 317.74 L249.75 317.39 L250.11 317.06 L250.47 316.72 L250.84 316.39 L251.22 316.07 L251.59 315.76 L251.98 315.45 L252.36 315.14 L252.75 314.84 L253.15 314.55 L253.55 314.26 L253.95 313.97 L254.35 313.68 L254.76 313.40 L255.17 313.12 L255.58 312.84 L255.99 312.56 L256.40 312.29 L256.82 312.01 L257.23 311.73 L257.65 311.45 L258.07 311.17 L258.48 310.89 L258.90 310.61 L259.32 310.33 L259.73 310.04 L260.15 309.76 L260.56 309.47 L260.98 309.18 L261.39 308.89 L261.81 308.59 L262.22 308.30 L262.63 308.01 L263.05 307.71 L263.46 307.42 L263.88 307.13 L264.29 306.83 L264.71 306.54 L265.12 306.25 L265.54 305.96 L265.96 305.67 L266.37 305.38 L266.79 305.09 L267.21 304.80 L267.63 304.52 L268.05 304.23 L268.47 303.95 L268.89 303.68 L269.31 303.40 L269.73 303.13 L270.15 302.86 L270.58 302.59 L271.00 302.32 L271.43 302.06 L271.86 301.81 L272.29 301.55 L272.72 301.30 L273.15 301.06 L273.58 300.82 L274.01 300.58 L274.45 300.35 L274.89 300.12 L275.32 299.90 L275.76 299.68 L276.20 299.47 L276.65 299.26 L277.09 299.06 L277.54 298.87 L277.99 298.68 L278.44 298.50 L278.89 298.33 L279.35 298.16 L279.80 298.00 L280.26 297.84 L280.72 297.70 L281.18 297.56 L281.65 297.42 L282.12 297.30 L282.59 297.18 L283.06 297.07 L283.53 296.97 L284.01 296.88 L284.49 296.79 L284.96 296.71 L285.45 296.64 L285.93 296.57 L286.42 296.51 L286.90 296.45 L287.39 296.40 L287.88 296.35 L288.38 296.31 L288.87 296.28 L289.36 296.25 L289.86 296.23 L290.36 296.21 L290.86 296.19 L291.36 296.18 L291.86 296.17 L292.36 296.17 L292.87 296.17 L293.37 296.17 L293.88 296.18 L294.38 296.18 L294.89 296.20 L295.40 296.21 L295.91 296.23 L296.42 296.25 L296.93 296.27 L297.44 296.29 L297.95 296.31 L298.46 296.34 L298.97 296.37 L299.48 296.39 L300.00 296.42 L300.51 296.45 L301.02 296.48 L301.53 296.51 L302.05 296.54 L302.56 296.57 L303.07 296.60 L303.59 296.63 L304.10 296.66 L304.61 296.68 L305.12 296.71 L305.63 296.73 L306.15 296.76 L306.66 296.78 L307.17 296.79 L307.68 296.81 L308.18 296.83 L308.69 296.84 L309.20 296.85 L309.71 296.85 L310.21 296.86 L310.72 296.85 L311.22 296.85 L311.72 296.84 L312.22 296.83 L312.72 296.81 L313.22 296.79 L313.72 296.77 L314.22 296.74 L314.71 296.71 L315.21 296.67 L315.70 296.63 L316.19 296.58 L316.68 296.53 L317.17 296.48 L317.66 296.42 L318.15 296.36 L318.64 296.30 L319.12 296.24 L319.61 296.18 L320.09 296.12 L320.58 296.05 L321.06 295.99 L321.55 295.92 L322.03 295.86 L322.52 295.79 L323.00 295.73 L323.49 295.66 L323.97 295.60 L324.46 295.54 L324.94 295.48 L325.43 295.43 L325.91 295.37 L326.40 295.32 L326.89 295.28 L327.37 295.23 L327.86 295.19 L328.35 295.16 L328.84 295.13 L329.33 295.10 L329.83 295.08 L330.32 295.06 L330.81 295.05 L331.31 295.05 L331.81 295.05 L332.30 295.06 L332.80 295.08 L333.31 295.10 L333.81 295.13 L334.31 295.17 L334.82 295.22 L335.33 295.28 L335.84 295.34 L336.35 295.41 L336.87 295.50 L337.39 295.59 L337.91 295.70 L338.43 295.81 L338.95 295.93 L339.48 296.07 L340.01 296.22" stroke="#868686" stroke-width="1.45"/>
<path d="M18.20 296.19 L18.66 296.37 L19.11 296.55 L19.57 296.74 L20.02 296.93 L20.48 297.13 L20.94 297.33 L21.39 297.54 L21.85 297.75 L22.30 297.96 L22.76 298.17 L23.22 298.39 L23.67 298.60 L24.13 298.82 L24.59 299.04 L25.05 299.25 L25.51 299.47 L25.97 299.69 L26.43 299.90 L26.89 300.11 L27.35 300.32 L27.81 300.52 L28.28 300.72 L28.74 300.92 L29.21 301.11 L29.67 301.30 L30.14 301.49 L30.61 301.66 L31.08 301.83 L31.55 302.00 L32.02 302.15 L32.50 302.30 L32.97 302.44 L33.45 302.58 L33.93 302.70 L34.40 302.81 L34.89 302.92 L35.37 303.01 L35.85 303.09 L36.34 303.16 L36.83 303.22 L37.32 303.27 L37.81 303.31 L38.30 303.34 L38.79 303.36 L39.29 303.38 L39.79 303.38 L40.28 303.38 L40.78 303.37 L41.28 303.36 L41.78 303.34 L42.28 303.32 L42.78 303.29 L43.28 303.26 L43.79 303.22 L44.29 303.18 L44.79 303.14 L45.29 303.10 L45.80 303.06 L46.30 303.02 L46.80 302.98 L47.31 302.94 L47.81 302.90 L48.31 302.86 L48.81 302.82 L49.31 302.79 L49.81 302.76 L50.31 302.74 L50.81 302.72 L51.31 302.71 L51.81 302.70 L52.31 302.70 L52.80 302.70 L53.30 302.72 L53.79 302.74 L54.28 302.77 L54.77 302.81 L55.26 302.86 L55.74 302.92 L56.23 302.99 L56.71 303.06 L57.20 303.15 L57.68 303.24 L58.16 303.35 L58.64 303.46 L59.11 303.57 L59.59 303.70 L60.06 303.83 L60.54 303.97 L61.01 304.12 L61.48 304.27 L61.96 304.42 L62.43 304.59 L62.90 304.75 L63.37 304.93 L63.83 305.10 L64.30 305.28 L64.77 305.47 L65.24 305.66 L65.70 305.85 L66.17 306.05 L66.63 306.24 L67.10 306.44 L67.56 306.65 L68.03 306.85 L68.49 307.06 L68.96 307.27 L69.42 307.47 L69.89 307.68 L70.35 307.89 L70.82 308.10 L71.28 308.31 L71.74 308.52 L72.21 308.73 L72.67 308.94 L73.14 309.15 L73.61 309.35 L74.07 309.55 L74.54 309.75 L75.01 309.95 L75.47 310.15 L75.94 310.34 L76.41 310.53 L76.88 310.71 L77.35 310.89 L77.82 311.07 L78.30 311.24 L78.77 311.41 L79.24 311.57 L79.72 311.73 L80.20 311.88 L80.67 312.02 L81.15 312.16 L81.63 312.29 L82.11 312.42 L82.59 312.54 L83.08 312.65 L83.56 312.76 L84.05 312.85 L84.53 312.95 L85.02 313.03 L85.51 313.11 L86.00 313.19 L86.49 313.26 L86.98 313.32 L87.48 313.38 L87.97 313.43 L88.46 313.48 L88.96 313.52 L89.45 313.56 L89.95 313.59 L90.45 313.62 L90.94 313.64 L91.44 313.65 L91.94 313.67 L92.44 313.68 L92.94 313.68 L93.44 313.68 L93.94 313.68 L94.44 313.67 L94.94 313.66 L95.45 313.64 L95.95 313.62 L96.45 313.60 L96.95 313.57 L97.46 313.54 L97.96 313.51 L98.46 313.47 L98.96 313.43 L99.47 313.39 L99.97 313.35 L100.47 313.30 L100.98 313.25 L101.48 313.20 L101.98 313.14 L102.49 313.09 L102.99 313.03 L103.49 312.97 L103.99 312.90 L104.50 312.84 L105.00 312.77 L105.50 312.71 L106.00 312.64 L106.50 312.57 L107.00 312.49 L107.50 312.42 L108.00 312.35 L108.50 312.27 L109.00 312.20 L109.49 312.12 L109.99 312.05 L110.49 311.97 L110.98 311.89 L111.48 311.82 L111.97 311.74 L112.47 311.66 L112.96 311.58 L113.45 311.51 L113.94 311.43 L114.43 311.36 L114.92 311.28 L115.41 311.21 L115.89 311.13 L116.38 311.06 L116.86 310.99 L117.35 310.93 L117.83 310.86 L118.32 310.81 L118.80 310.75 L119.28 310.71 L119.77 310.67 L120.25 310.63 L120.74 310.61 L121.22 310.59 L121.71 310.58 L122.20 310.58 L122.68 310.59 L123.17 310.61 L123.66 310.64 L124.16 310.68 L124.65 310.74 L125.14 310.81 L125.64 310.89 L126.14 310.99 L126.64 311.10 L127.14 311.23 L127.64 311.36 L128.15 311.50 L128.65 311.65 L129.16 311.79 L129.67 311.93 L130.17 312.06 L130.68 312.19 L131.18 312.30 L131.69 312.40 L132.19 312.47 L132.69 312.53 L133.19 312.57 L133.69 312.58 L134.18 312.57 L134.67 312.54 L135.15 312.49 L135.63 312.42 L136.10 312.32 L136.56 312.20 L137.02 312.06 L137.46 311.90 L137.90 311.72 L138.33 311.51 L138.74 311.29 L139.15 311.04 L139.54 310.77 L139.92 310.47 L140.29 310.16 L140.65 309.83 L141.00 309.48 L141.34 309.11 L141.67 308.73 L141.99 308.34 L142.30 307.93 L142.60 307.51 L142.90 307.08 L143.18 306.64 L143.46 306.20 L143.74 305.75 L144.00 305.29 L144.26 304.83 L144.52 304.37 L144.77 303.90 L145.01 303.44 L145.26 302.98 L145.49 302.52 L145.73 302.06 L145.96 301.60 L146.19 301.15 L146.41 300.70 L146.63 300.25 L146.85 299.80 L147.07 299.35 L147.28 298.91 L147.49 298.46 L147.70 298.02 L147.91 297.58 L148.11 297.13 L148.32 296.69 L148.52 296.26 L148.72 295.82 L148.92 295.38 L149.11 294.94 L149.31 294.50 L149.51 294.06 L149.70 293.62 L149.90 293.19 L150.09 292.75 L150.29 292.31 L150.48 291.87 L150.68 291.43 L150.87 290.99 L151.06 290.54 L151.26 290.10 L151.46 289.65 L151.65 289.21 L151.85 288.76 L152.05 288.31 L152.25 287.86 L152.45 287.40 L152.66 286.95 L152.86 286.49 L153.07 286.03 L153.28 285.56 L153.49 285.10 L153.70 284.63 L153.92 284.16 L154.14 283.69 L154.36 283.21 L154.58 282.73 L154.81 282.24 L155.04 281.76 L155.28 281.26 L155.52 280.77 L155.76 280.27 L156.01 279.78 L156.26 279.28 L156.52 278.79 L156.79 278.32 L157.07 277.85 L157.36 277.39 L157.66 276.96 L157.97 276.54 L158.30 276.15 L158.64 275.77 L159.00 275.43 L159.37 275.12 L159.76 274.84 L160.16 274.60 L160.56 274.39 L160.98 274.23 L161.40 274.12 L161.81 274.05 L162.23 274.03 L162.65 274.07 L163.06 274.16 L163.46 274.31 L163.86 274.49 L164.25 274.72 L164.63 274.99 L165.01 275.28 L165.38 275.60 L165.73 275.94 L166.08 276.30 L166.42 276.67 L166.75 277.05 L167.07 277.43 L167.38 277.82 L167.68 278.21 L167.97 278.61 L168.25 279.02 L168.52 279.43 L168.78 279.85 L169.03 280.27 L169.28 280.70 L169.51 281.14 L169.74 281.57 L169.96 282.02 L170.18 282.46 L170.38 282.91 L170.58 283.37 L170.78 283.83 L170.96 284.29 L171.14 284.76 L171.32 285.23 L171.49 285.70 L171.65 286.18 L171.81 286.66 L171.96 287.14 L172.11 287.63 L172.25 288.11 L172.39 288.60 L172.53 289.09 L172.66 289.59 L172.79 290.08 L172.91 290.58 L173.03 291.08 L173.15 291.58 L173.27 292.08 L173.38 292.58 L173.50 293.09 L173.61 293.59 L173.72 294.09 L173.82 294.60 L173.93 295.10 L174.03 295.61 L174.14 296.11 L174.24 296.62 L174.35 297.12 L174.45 297.62 L174.56 298.13 L174.66 298.63 L174.77 299.13 L174.87 299.63 L174.98 300.12 L175.09 300.62 L175.20 301.11 L175.32 301.61 L175.43 302.10 L175.55 302.58 L175.67 303.07 L175.79 303.55 L175.92 304.03 L176.04 304.51 L176.17 304.99 L176.30 305.47 L176.43 305.94 L176.57 306.42 L176.70 306.89 L176.83 307.36 L176.97 307.83 L177.11 308.30 L177.25 308.77 L177.39 309.24 L177.53 309.71 L177.67 310.17 L177.81 310.64 L177.95 311.11 L178.09 311.57 L178.23 312.04 L178.37 312.51 L178.51 312.97 L178.65 313.44 L178.79 313.91 L178.93 314.38 L179.07 314.85 L179.20 315.32 L179.34 315.79 L179.47 316.26 L179.61 316.73 L179.74 317.21 L179.87 317.69 L180.00 318.16 L180.13 318.64 L180.26 319.12 L180.38 319.61 L180.50 320.09 L180.62 320.58 L180.74 321.07 L180.86 321.56 L180.97 322.05 L181.08 322.55 L181.19 323.04 L181.30 323.54 L181.41 324.04 L181.52 324.54 L181.63 325.04 L181.74 325.54 L181.85 326.04 L181.96 326.54 L182.07 327.05 L182.18 327.55 L182.29 328.05 L182.41 328.55 L182.53 329.05 L182.64 329.55 L182.77 330.05 L182.89 330.55 L183.02 331.05 L183.15 331.54 L183.28 332.04 L183.42 332.53 L183.56 333.02 L183.71 333.51 L183.86 333.99 L184.01 334.48 L184.17 334.96 L184.34 335.44 L184.51 335.91 L184.69 336.38 L184.87 336.85 L185.06 337.32 L185.25 337.78 L185.46 338.24 L185.67 338.69 L185.88 339.14 L186.11 339.59 L186.34 340.03 L186.59 340.46 L186.84 340.89 L187.09 341.32 L187.36 341.74 L187.64 342.16 L187.93 342.57 L188.22 342.97 L188.53 343.37 L188.85 343.76 L189.17 344.15 L189.51 344.53 L189.86 344.90 L190.22 345.26 L190.59 345.60 L190.97 345.93 L191.36 346.23 L191.75 346.50 L192.16 346.74 L192.57 346.94 L192.98 347.10 L193.41 347.21 L193.84 347.27 L194.27 347.28 L194.71 347.24 L195.15 347.16 L195.59 347.03 L196.02 346.86 L196.46 346.66 L196.90 346.41 L197.33 346.14 L197.75 345.84 L198.17 345.51 L198.58 345.16 L198.98 344.79 L199.37 344.40 L199.74 344.00 L200.11 343.59 L200.46 343.16 L200.80 342.74 L201.13 342.30 L201.45 341.86 L201.77 341.42 L202.08 340.97 L202.38 340.53 L202.68 340.09 L202.99 339.65 L203.29 339.21 L203.59 338.79 L203.89 338.37 L204.20 337.96 L204.52 337.56 L204.84 337.17 L205.17 336.80 L205.51 336.44 L205.86 336.10 L206.23 335.78 L206.60 335.48 L206.99 335.20 L207.39 334.94 L207.81 334.70 L208.23 334.48 L208.66 334.28 L209.11 334.10 L209.56 333.94 L210.02 333.79 L210.48 333.67 L210.96 333.57 L211.44 333.49 L211.92 333.43 L212.41 333.39 L212.90 333.37 L213.40 333.37 L213.90 333.39 L214.40 333.43 L214.90 333.49 L215.40 333.57 L215.90 333.67 L216.40 333.79 L216.90 333.93 L217.40 334.09 L217.89 334.27 L218.38 334.47 L218.87 334.69 L219.35 334.92 L219.83 335.17 L220.31 335.43 L220.78 335.69 L221.25 335.95 L221.72 336.21 L222.19 336.46 L222.66 336.70 L223.13 336.93 L223.59 337.15 L224.06 337.34 L224.53 337.51 L225.00 337.66 L225.47 337.78 L225.94 337.87 L226.40 337.93 L226.87 337.97 L227.34 337.99 L227.81 337.98 L228.28 337.95 L228.74 337.89 L229.20 337.82 L229.66 337.72 L230.12 337.61 L230.58 337.47 L231.03 337.32 L231.48 337.15 L231.92 336.96 L232.36 336.75 L232.79 336.53 L233.22 336.29 L233.65 336.04 L234.07 335.77 L234.48 335.49 L234.89 335.20 L235.29 334.90 L235.68 334.59 L236.07 334.26 L236.44 333.93 L236.81 333.58 L237.18 333.23 L237.53 332.87 L237.88 332.51 L238.22 332.13 L238.56 331.75 L238.88 331.37 L239.21 330.98 L239.53 330.58 L239.84 330.18 L240.15 329.78 L240.46 329.37 L240.76 328.96 L241.06 328.54 L241.36 328.13 L241.65 327.71 L241.94 327.29 L242.24 326.88 L242.53 326.46 L242.82 326.04 L243.11 325.62 L243.40 325.20 L243.69 324.79 L243.98 324.38 L244.27 323.96 L244.57 323.55 L244.86 323.14 L245.15 322.73 L245.45 322.33 L245.74 321.92 L246.03 321.51 L246.33 321.11 L246.62 320.71 L246.91 320.30 L247.21 319.90 L247.50 319.50 L247.80 319.10 L248.09 318.70 L248.39 318.30 L248.68 317.90 L248.97 317.50 L249.27 317.10 L249.56 316.70 L249.86 316.31 L250.15 315.91 L250.44 315.51 L250.74 315.11 L251.03 314.72 L251.32 314.32 L251.62 313.92 L251.91 313.53 L252.20 313.13 L252.49 312.73 L252.78 312.33 L253.08 311.93 L253.37 311.54 L253.66 311.14 L253.95 310.74 L254.24 310.34 L254.53 309.94 L254.81 309.53 L255.10 309.13 L255.39 308.73 L255.68 308.33 L255.96 307.92 L256.25 307.52 L256.53 307.11 L256.82 306.70 L257.10 306.30 L257.38 305.89 L257.66 305.48 L257.94 305.06 L258.22 304.65 L258.50 304.24 L258.78 303.82 L259.06 303.41 L259.34 302.99 L259.61 302.57 L259.89 302.15 L260.16 301.72 L260.44 301.30 L260.71 300.88 L260.98 300.45 L261.26 300.03 L261.53 299.60 L261.81 299.18 L262.08 298.75 L262.36 298.33 L262.63 297.90 L262.91 297.48 L263.18 297.05 L263.46 296.63 L263.74 296.21 L264.02 295.79 L264.31 295.37 L264.59 294.95 L264.87 294.53 L265.16 294.11 L265.45 293.70 L265.74 293.29 L266.03 292.88 L266.33 292.47 L266.63 292.06 L266.93 291.66 L267.23 291.26 L267.54 290.86 L267.84 290.46 L268.16 290.07 L268.47 289.68 L268.79 289.29 L269.11 288.91 L269.44 288.53 L269.76 288.15 L270.10 287.78 L270.43 287.41 L270.77 287.05 L271.12 286.69 L271.47 286.33 L271.82 285.98 L272.18 285.64 L272.54 285.30 L272.91 284.96 L273.28 284.63 L273.66 284.30 L274.04 283.98 L274.43 283.67 L274.82 283.36 L275.22 283.05 L275.62 282.76 L276.03 282.47 L276.44 282.18 L276.86 281.90 L277.28 281.63 L277.71 281.37 L278.14 281.11 L278.57 280.86 L279.01 280.62 L279.45 280.39 L279.90 280.16 L280.35 279.94 L280.80 279.73 L281.26 279.53 L281.72 279.34 L282.18 279.15 L282.65 278.98 L283.12 278.81 L283.59 278.65 L284.07 278.51 L284.54 278.37 L285.02 278.24 L285.51 278.12 L285.99 278.01 L286.48 277.92 L286.97 277.83 L287.46 277.76 L287.95 277.69 L288.44 277.64 L288.94 277.59 L289.44 277.56 L289.93 277.54 L290.43 277.54 L290.93 277.54 L291.44 277.56 L291.94 277.59 L292.44 277.62 L292.94 277.67 L293.45 277.73 L293.95 277.80 L294.45 277.87 L294.96 277.96 L295.46 278.05 L295.96 278.15 L296.46 278.25 L296.96 278.36 L297.46 278.47 L297.96 278.59 L298.45 278.72 L298.94 278.85 L299.44 278.98 L299.93 279.11 L300.41 279.25 L300.90 279.39 L301.38 279.53 L301.87 279.67 L302.35 279.82 L302.82 279.97 L303.30 280.13 L303.78 280.28 L304.25 280.44 L304.73 280.60 L305.20 280.77 L305.67 280.93 L306.14 281.10 L306.60 281.27 L307.07 281.44 L307.53 281.62 L308.00 281.80 L308.46 281.98 L308.92 282.16 L309.38 282.34 L309.84 282.53 L310.30 282.71 L310.76 282.90 L311.22 283.09 L311.68 283.29 L312.13 283.48 L312.59 283.68 L313.04 283.87 L313.50 284.07 L313.95 284.27 L314.40 284.47 L314.86 284.68 L315.31 284.88 L315.76 285.09 L316.21 285.29 L316.66 285.50 L317.12 285.71 L317.57 285.92 L318.02 286.13 L318.47 286.34 L318.92 286.56 L319.37 286.77 L319.82 286.98 L320.27 287.20 L320.73 287.41 L321.18 287.63 L321.63 287.85 L322.08 288.06 L322.54 288.28 L322.99 288.50 L323.44 288.72 L323.90 288.93 L324.35 289.15 L324.81 289.37 L325.27 289.59 L325.72 289.80 L326.18 290.01 L326.64 290.22 L327.10 290.43 L327.56 290.63 L328.03 290.82 L328.49 291.01 L328.96 291.19 L329.42 291.36 L329.89 291.52 L330.36 291.68 L330.83 291.82 L331.31 291.95 L331.78 292.07 L332.26 292.18 L332.74 292.27 L333.22 292.35 L333.70 292.42 L334.19 292.47 L334.68 292.50 L335.17 292.51 L335.66 292.51 L336.16 292.49 L336.66 292.45 L337.16 292.38 L337.66 292.30 L338.17 292.19 L338.68 292.06 L339.19 291.91 L339.71 291.74 L340.23 291.53" stroke="#2c2c2c" stroke-width="1.6"/>
</g>
<line x1="163.2" y1="256.2" x2="163.2" y2="267.7" stroke="#999" stroke-width="0.6"/>
<path d="M163.2 269.2 L162.1 266.6 L164.3 266.6 Z" fill="#444"/>
<text x="163.2" y="255.1" text-anchor="middle" font-size="5.4">N1</text>
<line x1="192.6" y1="361.3" x2="192.6" y2="351.6" stroke="#999" stroke-width="0.6"/>
<path d="M192.6 350.1 L191.5 352.7 L193.7 352.7 Z" fill="#444"/>
<text x="192.6" y="367.9" text-anchor="middle" font-size="5.4">P2</text>
<rect x="319.0" y="203.5" width="18.6" height="14.0" fill="#fff" stroke="#dcdcdc" stroke-width="0.9"/>
<line x1="319.6" y1="207.2" x2="328.3" y2="207.2" stroke="#868686" stroke-width="1.1"/>
<line x1="319.6" y1="214.0" x2="328.3" y2="214.0" stroke="#2c2c2c" stroke-width="1.5"/>
<text x="329.2" y="209.5" font-size="5.3">Std</text>
<text x="329.2" y="215.7" font-size="5.3">Trg</text>
<clipPath id="c4"><rect x="354.6" y="196.5" width="327.6" height="172.8"/></clipPath>
<line x1="409.5" y1="196.5" x2="409.5" y2="369.3" stroke="#c4c4c4" stroke-width="0.8" stroke-dasharray="1 1.3"/>
<line x1="354.6" y1="300.2" x2="682.2" y2="300.2" stroke="#9a9a9a" stroke-width="0.9"/>
<rect x="354.6" y="196.5" width="327.6" height="172.8" fill="none" stroke="#dedede" stroke-width="1.5"/>
<line x1="354.6" y1="196.5" x2="356.8" y2="196.5" stroke="#bbb" stroke-width="0.6"/>
<line x1="682.2" y1="196.5" x2="680.0" y2="196.5" stroke="#bbb" stroke-width="0.6"/>
<text x="352.4" y="199.2" text-anchor="end" font-size="6.1">-3</text>
<line x1="354.6" y1="231.1" x2="356.8" y2="231.1" stroke="#bbb" stroke-width="0.6"/>
<line x1="682.2" y1="231.1" x2="680.0" y2="231.1" stroke="#bbb" stroke-width="0.6"/>
<text x="352.4" y="233.8" text-anchor="end" font-size="6.1">-2</text>
<line x1="354.6" y1="265.6" x2="356.8" y2="265.6" stroke="#bbb" stroke-width="0.6"/>
<line x1="682.2" y1="265.6" x2="680.0" y2="265.6" stroke="#bbb" stroke-width="0.6"/>
<text x="352.4" y="268.3" text-anchor="end" font-size="6.1">-1</text>
<line x1="354.6" y1="300.2" x2="356.8" y2="300.2" stroke="#bbb" stroke-width="0.6"/>
<line x1="682.2" y1="300.2" x2="680.0" y2="300.2" stroke="#bbb" stroke-width="0.6"/>
<text x="352.4" y="302.9" text-anchor="end" font-size="6.1">0</text>
<line x1="354.6" y1="334.8" x2="356.8" y2="334.8" stroke="#bbb" stroke-width="0.6"/>
<line x1="682.2" y1="334.8" x2="680.0" y2="334.8" stroke="#bbb" stroke-width="0.6"/>
<text x="352.4" y="337.5" text-anchor="end" font-size="6.1">1</text>
<line x1="354.6" y1="369.3" x2="356.8" y2="369.3" stroke="#bbb" stroke-width="0.6"/>
<line x1="682.2" y1="369.3" x2="680.0" y2="369.3" stroke="#bbb" stroke-width="0.6"/>
<text x="352.4" y="372.0" text-anchor="end" font-size="6.1">2</text>
<line x1="354.5" y1="369.3" x2="354.5" y2="366.7" stroke="#bbb" stroke-width="0.6"/>
<line x1="354.5" y1="196.5" x2="354.5" y2="199.1" stroke="#bbb" stroke-width="0.6"/>
<text x="354.5" y="377.4" text-anchor="middle" font-size="6.1">-50</text>
<line x1="409.5" y1="369.3" x2="409.5" y2="366.7" stroke="#bbb" stroke-width="0.6"/>
<line x1="409.5" y1="196.5" x2="409.5" y2="199.1" stroke="#bbb" stroke-width="0.6"/>
<text x="409.5" y="377.4" text-anchor="middle" font-size="6.1">0</text>
<line x1="464.5" y1="369.3" x2="464.5" y2="366.7" stroke="#bbb" stroke-width="0.6"/>
<line x1="464.5" y1="196.5" x2="464.5" y2="199.1" stroke="#bbb" stroke-width="0.6"/>
<text x="464.5" y="377.4" text-anchor="middle" font-size="6.1">50</text>
<line x1="519.5" y1="369.3" x2="519.5" y2="366.7" stroke="#bbb" stroke-width="0.6"/>
<line x1="519.5" y1="196.5" x2="519.5" y2="199.1" stroke="#bbb" stroke-width="0.6"/>
<text x="519.5" y="377.4" text-anchor="middle" font-size="6.1">100</text>
<line x1="574.5" y1="369.3" x2="574.5" y2="366.7" stroke="#bbb" stroke-width="0.6"/>
<line x1="574.5" y1="196.5" x2="574.5" y2="199.1" stroke="#bbb" stroke-width="0.6"/>
<text x="574.5" y="377.4" text-anchor="middle" font-size="6.1">150</text>
<line x1="629.5" y1="369.3" x2="629.5" y2="366.7" stroke="#bbb" stroke-width="0.6"/>
<line x1="629.5" y1="196.5" x2="629.5" y2="199.1" stroke="#bbb" stroke-width="0.6"/>
<text x="629.5" y="377.4" text-anchor="middle" font-size="6.1">200</text>
<text x="518.8" y="385.7" text-anchor="middle" font-size="6.3">Latency (ms)</text>
<clipPath id="yl4"><rect x="343.4" y="200" width="8" height="170"/></clipPath>
<g clip-path="url(#yl4)" opacity="0.75"><text transform="translate(345.8 282.9) rotate(-90)" text-anchor="middle" font-size="6.3">Potential (&#956;V)</text></g>
<text x="359.3" y="202.6" font-size="5.8" textLength="13.2" lengthAdjust="spacingAndGlyphs" style="stroke-width:0.3px">Ch 14</text>
<g clip-path="url(#c4)" fill="none" stroke-linejoin="round" stroke-linecap="round">
<path d="M354.56 303.13 L355.08 303.31 L355.59 303.48 L356.11 303.63 L356.63 303.77 L357.14 303.89 L357.65 304.01 L358.16 304.11 L358.66 304.19 L359.17 304.27 L359.67 304.34 L360.17 304.39 L360.67 304.44 L361.17 304.47 L361.67 304.49 L362.16 304.51 L362.66 304.51 L363.15 304.50 L363.64 304.49 L364.13 304.46 L364.62 304.43 L365.11 304.39 L365.60 304.34 L366.08 304.29 L366.57 304.23 L367.05 304.15 L367.54 304.08 L368.02 303.99 L368.50 303.90 L368.98 303.81 L369.46 303.71 L369.94 303.60 L370.42 303.49 L370.90 303.37 L371.38 303.25 L371.85 303.13 L372.33 303.00 L372.81 302.87 L373.29 302.73 L373.76 302.59 L374.24 302.45 L374.72 302.31 L375.19 302.16 L375.67 302.02 L376.15 301.87 L376.62 301.72 L377.10 301.57 L377.58 301.41 L378.06 301.26 L378.54 301.11 L379.01 300.96 L379.49 300.81 L379.97 300.65 L380.45 300.50 L380.93 300.36 L381.42 300.21 L381.90 300.06 L382.38 299.92 L382.86 299.77 L383.35 299.63 L383.83 299.49 L384.31 299.35 L384.80 299.22 L385.28 299.09 L385.77 298.96 L386.25 298.83 L386.74 298.70 L387.23 298.58 L387.71 298.46 L388.20 298.35 L388.69 298.24 L389.17 298.13 L389.66 298.02 L390.15 297.92 L390.64 297.82 L391.13 297.73 L391.62 297.64 L392.10 297.56 L392.59 297.48 L393.08 297.40 L393.57 297.33 L394.06 297.27 L394.55 297.21 L395.04 297.15 L395.53 297.11 L396.02 297.06 L396.51 297.02 L397.00 296.99 L397.49 296.97 L397.97 296.95 L398.46 296.93 L398.95 296.93 L399.44 296.93 L399.93 296.93 L400.42 296.95 L400.91 296.96 L401.40 296.99 L401.89 297.02 L402.38 297.06 L402.87 297.10 L403.36 297.14 L403.85 297.20 L404.33 297.25 L404.82 297.31 L405.31 297.38 L405.80 297.45 L406.29 297.53 L406.78 297.61 L407.27 297.69 L407.76 297.78 L408.25 297.87 L408.74 297.96 L409.23 298.06 L409.72 298.16 L410.21 298.26 L410.70 298.37 L411.19 298.48 L411.68 298.59 L412.17 298.70 L412.66 298.82 L413.15 298.93 L413.64 299.05 L414.13 299.17 L414.62 299.30 L415.11 299.42 L415.60 299.54 L416.09 299.67 L416.58 299.80 L417.08 299.92 L417.57 300.05 L418.06 300.18 L418.55 300.30 L419.04 300.43 L419.54 300.56 L420.03 300.68 L420.52 300.81 L421.02 300.93 L421.51 301.06 L422.00 301.18 L422.50 301.30 L422.99 301.42 L423.49 301.54 L423.98 301.66 L424.48 301.77 L424.97 301.89 L425.47 302.00 L425.97 302.10 L426.46 302.21 L426.96 302.31 L427.46 302.41 L427.96 302.51 L428.45 302.60 L428.95 302.69 L429.45 302.77 L429.95 302.85 L430.45 302.93 L430.95 303.00 L431.45 303.07 L431.95 303.14 L432.44 303.19 L432.94 303.25 L433.44 303.30 L433.94 303.34 L434.44 303.37 L434.93 303.41 L435.43 303.43 L435.92 303.45 L436.42 303.46 L436.91 303.46 L437.40 303.46 L437.89 303.45 L438.38 303.43 L438.87 303.40 L439.36 303.37 L439.84 303.33 L440.33 303.27 L440.81 303.21 L441.29 303.15 L441.77 303.07 L442.25 302.98 L442.72 302.88 L443.20 302.78 L443.67 302.66 L444.14 302.54 L444.60 302.40 L445.07 302.26 L445.53 302.11 L446.00 301.96 L446.46 301.80 L446.93 301.65 L447.40 301.50 L447.87 301.34 L448.34 301.20 L448.82 301.06 L449.30 300.92 L449.78 300.80 L450.27 300.68 L450.77 300.58 L451.27 300.49 L451.77 300.41 L452.28 300.35 L452.80 300.29 L453.32 300.25 L453.84 300.21 L454.36 300.18 L454.89 300.16 L455.42 300.14 L455.95 300.12 L456.48 300.11 L457.01 300.10 L457.55 300.10 L458.08 300.09 L458.61 300.08 L459.14 300.07 L459.67 300.06 L460.19 300.04 L460.71 300.02 L461.23 300.00 L461.75 299.96 L462.26 299.92 L462.77 299.87 L463.27 299.81 L463.77 299.74 L464.26 299.66 L464.74 299.56 L465.21 299.45 L465.68 299.33 L466.14 299.19 L466.60 299.04 L467.04 298.87 L467.48 298.69 L467.91 298.49 L468.34 298.28 L468.76 298.06 L469.17 297.83 L469.57 297.59 L469.97 297.33 L470.36 297.07 L470.75 296.79 L471.13 296.50 L471.50 296.20 L471.87 295.89 L472.23 295.58 L472.59 295.25 L472.94 294.92 L473.28 294.57 L473.62 294.22 L473.96 293.86 L474.29 293.50 L474.62 293.12 L474.94 292.75 L475.25 292.36 L475.56 291.97 L475.87 291.57 L476.17 291.17 L476.47 290.77 L476.76 290.36 L477.05 289.95 L477.34 289.53 L477.62 289.11 L477.90 288.69 L478.18 288.26 L478.45 287.83 L478.72 287.40 L478.98 286.97 L479.25 286.54 L479.51 286.11 L479.76 285.67 L480.02 285.23 L480.27 284.79 L480.52 284.35 L480.76 283.91 L481.00 283.47 L481.24 283.02 L481.48 282.58 L481.71 282.13 L481.94 281.68 L482.17 281.23 L482.40 280.78 L482.62 280.32 L482.84 279.87 L483.06 279.42 L483.27 278.96 L483.49 278.50 L483.70 278.05 L483.91 277.59 L484.11 277.13 L484.32 276.67 L484.52 276.21 L484.72 275.75 L484.92 275.28 L485.11 274.82 L485.30 274.36 L485.50 273.89 L485.69 273.43 L485.87 272.96 L486.06 272.49 L486.24 272.03 L486.43 271.56 L486.61 271.09 L486.79 270.63 L486.96 270.16 L487.14 269.69 L487.31 269.22 L487.49 268.75 L487.66 268.28 L487.83 267.81 L487.99 267.35 L488.16 266.88 L488.33 266.41 L488.49 265.94 L488.66 265.47 L488.82 265.00 L488.98 264.53 L489.14 264.06 L489.30 263.60 L489.46 263.13 L489.61 262.66 L489.77 262.19 L489.92 261.73 L490.08 261.26 L490.23 260.80 L490.38 260.33 L490.54 259.87 L490.69 259.40 L490.84 258.94 L490.99 258.48 L491.14 258.01 L491.29 257.55 L491.44 257.09 L491.59 256.63 L491.74 256.17 L491.89 255.70 L492.05 255.24 L492.20 254.78 L492.36 254.32 L492.52 253.85 L492.68 253.39 L492.84 252.92 L493.00 252.45 L493.17 251.98 L493.34 251.51 L493.52 251.04 L493.70 250.57 L493.88 250.09 L494.07 249.61 L494.26 249.13 L494.45 248.65 L494.65 248.17 L494.86 247.68 L495.07 247.19 L495.28 246.70 L495.50 246.20 L495.73 245.70 L495.97 245.21 L496.21 244.71 L496.46 244.23 L496.73 243.75 L497.00 243.29 L497.29 242.85 L497.60 242.43 L497.91 242.03 L498.25 241.66 L498.60 241.32 L498.97 241.02 L499.37 240.75 L499.78 240.52 L500.20 240.34 L500.64 240.19 L501.09 240.09 L501.55 240.03 L502.01 240.01 L502.47 240.04 L502.93 240.12 L503.39 240.24 L503.83 240.40 L504.27 240.60 L504.70 240.83 L505.12 241.09 L505.52 241.38 L505.91 241.69 L506.28 242.01 L506.64 242.35 L506.97 242.71 L507.29 243.07 L507.60 243.45 L507.89 243.84 L508.17 244.24 L508.43 244.65 L508.68 245.08 L508.91 245.51 L509.14 245.95 L509.35 246.39 L509.56 246.85 L509.75 247.31 L509.94 247.78 L510.11 248.26 L510.28 248.74 L510.44 249.22 L510.60 249.71 L510.75 250.21 L510.89 250.71 L511.03 251.21 L511.17 251.71 L511.30 252.21 L511.43 252.72 L511.56 253.23 L511.69 253.73 L511.82 254.24 L511.95 254.74 L512.08 255.25 L512.21 255.75 L512.34 256.25 L512.48 256.74 L512.62 257.23 L512.76 257.72 L512.91 258.21 L513.06 258.69 L513.21 259.17 L513.36 259.65 L513.52 260.12 L513.67 260.60 L513.83 261.07 L514.00 261.54 L514.16 262.00 L514.32 262.47 L514.49 262.93 L514.66 263.40 L514.82 263.86 L514.99 264.32 L515.16 264.79 L515.33 265.25 L515.50 265.71 L515.67 266.17 L515.84 266.64 L516.00 267.10 L516.17 267.56 L516.34 268.03 L516.51 268.49 L516.67 268.96 L516.84 269.42 L517.01 269.89 L517.17 270.35 L517.34 270.82 L517.50 271.29 L517.67 271.76 L517.83 272.22 L518.00 272.69 L518.16 273.16 L518.33 273.63 L518.49 274.10 L518.66 274.57 L518.82 275.04 L518.99 275.51 L519.15 275.98 L519.32 276.45 L519.48 276.92 L519.65 277.39 L519.81 277.86 L519.98 278.33 L520.14 278.80 L520.31 279.27 L520.47 279.75 L520.64 280.22 L520.80 280.69 L520.97 281.16 L521.13 281.63 L521.30 282.10 L521.47 282.58 L521.63 283.05 L521.80 283.52 L521.97 283.99 L522.14 284.46 L522.30 284.94 L522.47 285.41 L522.64 285.88 L522.81 286.35 L522.98 286.82 L523.15 287.29 L523.32 287.77 L523.49 288.24 L523.66 288.71 L523.83 289.18 L524.01 289.65 L524.18 290.12 L524.35 290.59 L524.53 291.06 L524.70 291.53 L524.88 292.00 L525.05 292.47 L525.23 292.94 L525.41 293.41 L525.58 293.88 L525.76 294.35 L525.94 294.81 L526.12 295.28 L526.30 295.75 L526.49 296.22 L526.67 296.68 L526.85 297.15 L527.04 297.62 L527.22 298.08 L527.41 298.55 L527.59 299.01 L527.78 299.47 L527.97 299.94 L528.16 300.40 L528.35 300.86 L528.54 301.33 L528.73 301.79 L528.93 302.25 L529.12 302.71 L529.32 303.17 L529.52 303.63 L529.71 304.09 L529.91 304.55 L530.11 305.00 L530.31 305.46 L530.52 305.92 L530.72 306.37 L530.93 306.83 L531.13 307.28 L531.34 307.74 L531.55 308.19 L531.76 308.64 L531.97 309.09 L532.18 309.54 L532.40 309.99 L532.61 310.44 L532.83 310.89 L533.05 311.34 L533.27 311.78 L533.49 312.23 L533.71 312.67 L533.93 313.12 L534.16 313.56 L534.39 314.00 L534.62 314.44 L534.85 314.88 L535.08 315.32 L535.31 315.76 L535.55 316.20 L535.78 316.64 L536.02 317.07 L536.26 317.51 L536.50 317.94 L536.74 318.37 L536.99 318.80 L537.24 319.23 L537.49 319.66 L537.74 320.09 L537.99 320.52 L538.24 320.95 L538.50 321.37 L538.75 321.79 L539.01 322.22 L539.28 322.64 L539.54 323.06 L539.80 323.48 L540.07 323.89 L540.34 324.31 L540.61 324.73 L540.88 325.14 L541.16 325.55 L541.44 325.96 L541.71 326.37 L542.00 326.78 L542.28 327.19 L542.56 327.60 L542.85 328.00 L543.14 328.40 L543.43 328.81 L543.73 329.21 L544.02 329.61 L544.32 330.00 L544.62 330.40 L544.93 330.80 L545.23 331.19 L545.54 331.58 L545.85 331.97 L546.16 332.36 L546.48 332.75 L546.79 333.13 L547.11 333.52 L547.43 333.90 L547.76 334.28 L548.08 334.66 L548.41 335.04 L548.75 335.42 L549.08 335.79 L549.42 336.16 L549.76 336.54 L550.10 336.91 L550.44 337.27 L550.79 337.64 L551.14 338.00 L551.49 338.37 L551.84 338.73 L552.20 339.09 L552.56 339.44 L552.92 339.80 L553.29 340.15 L553.65 340.50 L554.02 340.85 L554.40 341.19 L554.77 341.54 L555.15 341.88 L555.53 342.22 L555.91 342.55 L556.29 342.88 L556.68 343.21 L557.07 343.54 L557.46 343.86 L557.85 344.18 L558.25 344.50 L558.65 344.82 L559.05 345.13 L559.45 345.43 L559.86 345.74 L560.26 346.04 L560.67 346.34 L561.09 346.63 L561.50 346.92 L561.92 347.21 L562.34 347.49 L562.76 347.77 L563.18 348.05 L563.61 348.32 L564.03 348.58 L564.46 348.84 L564.89 349.09 L565.33 349.34 L565.77 349.57 L566.20 349.80 L566.65 350.01 L567.09 350.22 L567.53 350.42 L567.98 350.60 L568.43 350.77 L568.88 350.93 L569.34 351.07 L569.79 351.20 L570.25 351.31 L570.71 351.41 L571.18 351.49 L571.64 351.56 L572.11 351.60 L572.58 351.63 L573.05 351.64 L573.53 351.63 L574.00 351.59 L574.48 351.54 L574.96 351.47 L575.44 351.38 L575.93 351.27 L576.41 351.15 L576.89 351.01 L577.37 350.86 L577.86 350.69 L578.34 350.51 L578.82 350.32 L579.30 350.11 L579.78 349.90 L580.25 349.67 L580.73 349.43 L581.20 349.19 L581.67 348.94 L582.13 348.68 L582.60 348.41 L583.05 348.13 L583.51 347.86 L583.96 347.57 L584.41 347.29 L584.85 347.00 L585.28 346.71 L585.71 346.42 L586.13 346.12 L586.55 345.83 L586.97 345.54 L587.37 345.25 L587.78 344.95 L588.17 344.66 L588.57 344.36 L588.96 344.07 L589.34 343.77 L589.73 343.47 L590.11 343.17 L590.49 342.87 L590.86 342.57 L591.24 342.26 L591.61 341.96 L591.98 341.65 L592.35 341.34 L592.72 341.03 L593.09 340.72 L593.46 340.40 L593.83 340.09 L594.20 339.77 L594.57 339.45 L594.94 339.13 L595.31 338.80 L595.68 338.48 L596.05 338.15 L596.42 337.83 L596.79 337.50 L597.16 337.17 L597.54 336.84 L597.91 336.51 L598.28 336.18 L598.66 335.85 L599.03 335.52 L599.41 335.19 L599.78 334.86 L600.16 334.53 L600.53 334.20 L600.91 333.87 L601.29 333.54 L601.67 333.21 L602.05 332.89 L602.44 332.56 L602.82 332.23 L603.20 331.91 L603.59 331.58 L603.98 331.26 L604.36 330.94 L604.75 330.62 L605.14 330.31 L605.54 329.99 L605.93 329.68 L606.32 329.37 L606.72 329.06 L607.12 328.75 L607.52 328.45 L607.92 328.14 L608.33 327.84 L608.73 327.55 L609.14 327.25 L609.55 326.96 L609.96 326.68 L610.37 326.39 L610.79 326.11 L611.20 325.84 L611.62 325.56 L612.04 325.29 L612.47 325.03 L612.89 324.76 L613.32 324.51 L613.75 324.25 L614.19 324.00 L614.62 323.76 L615.06 323.52 L615.50 323.29 L615.94 323.05 L616.39 322.83 L616.84 322.61 L617.29 322.39 L617.74 322.18 L618.20 321.98 L618.66 321.78 L619.12 321.59 L619.59 321.41 L620.05 321.23 L620.52 321.06 L620.99 320.89 L621.47 320.74 L621.94 320.59 L622.42 320.45 L622.90 320.32 L623.38 320.20 L623.86 320.09 L624.35 319.99 L624.84 319.90 L625.32 319.82 L625.81 319.75 L626.30 319.69 L626.79 319.64 L627.29 319.61 L627.78 319.58 L628.28 319.57 L628.77 319.57 L629.27 319.59 L629.77 319.61 L630.26 319.66 L630.76 319.71 L631.26 319.77 L631.76 319.85 L632.26 319.93 L632.77 320.01 L633.27 320.10 L633.77 320.19 L634.27 320.28 L634.78 320.37 L635.28 320.46 L635.79 320.53 L636.30 320.61 L636.80 320.67 L637.31 320.73 L637.81 320.78 L638.32 320.82 L638.82 320.85 L639.33 320.87 L639.83 320.89 L640.33 320.89 L640.82 320.88 L641.32 320.86 L641.81 320.83 L642.30 320.79 L642.79 320.73 L643.27 320.66 L643.75 320.58 L644.23 320.48 L644.70 320.37 L645.16 320.25 L645.62 320.11 L646.08 319.95 L646.53 319.78 L646.98 319.59 L647.42 319.39 L647.85 319.16 L648.28 318.93 L648.70 318.68 L649.12 318.42 L649.54 318.14 L649.95 317.86 L650.36 317.56 L650.76 317.26 L651.17 316.95 L651.57 316.63 L651.97 316.31 L652.36 315.99 L652.76 315.66 L653.16 315.32 L653.55 314.99 L653.95 314.66 L654.35 314.32 L654.75 313.99 L655.15 313.67 L655.55 313.34 L655.95 313.02 L656.36 312.71 L656.77 312.40 L657.18 312.11 L657.60 311.82 L658.02 311.54 L658.45 311.27 L658.88 311.02 L659.31 310.78 L659.75 310.55 L660.19 310.33 L660.64 310.12 L661.09 309.92 L661.55 309.74 L662.01 309.57 L662.47 309.40 L662.94 309.25 L663.41 309.11 L663.89 308.98 L664.36 308.86 L664.84 308.74 L665.33 308.64 L665.81 308.55 L666.30 308.47 L666.79 308.39 L667.28 308.33 L667.77 308.27 L668.27 308.22 L668.77 308.18 L669.26 308.15 L669.76 308.12 L670.27 308.11 L670.77 308.10 L671.27 308.10 L671.77 308.10 L672.28 308.12 L672.78 308.13 L673.28 308.16 L673.79 308.19 L674.29 308.23 L674.80 308.27 L675.30 308.32 L675.80 308.38 L676.30 308.44 L676.80 308.51 L677.30 308.58 L677.80 308.65 L678.30 308.73 L678.79 308.82 L679.29 308.90 L679.78 309.00 L680.27 309.09 L680.76 309.19 L681.24 309.30 L681.72 309.40 L682.20 309.51" stroke="#868686" stroke-width="1.45"/>
<path d="M354.65 303.21 L355.10 303.31 L355.55 303.42 L356.01 303.54 L356.48 303.66 L356.94 303.79 L357.41 303.92 L357.89 304.05 L358.36 304.19 L358.84 304.32 L359.33 304.47 L359.81 304.61 L360.30 304.75 L360.79 304.89 L361.28 305.04 L361.77 305.18 L362.27 305.32 L362.76 305.47 L363.26 305.61 L363.76 305.74 L364.26 305.88 L364.76 306.01 L365.26 306.14 L365.76 306.26 L366.26 306.38 L366.76 306.49 L367.26 306.60 L367.76 306.70 L368.26 306.80 L368.76 306.88 L369.26 306.96 L369.75 307.04 L370.25 307.10 L370.74 307.16 L371.23 307.20 L371.73 307.24 L372.21 307.26 L372.70 307.28 L373.18 307.28 L373.66 307.27 L374.14 307.25 L374.62 307.22 L375.09 307.17 L375.56 307.11 L376.02 307.03 L376.48 306.94 L376.94 306.84 L377.39 306.72 L377.84 306.58 L378.29 306.43 L378.73 306.26 L379.16 306.07 L379.59 305.87 L380.02 305.65 L380.44 305.42 L380.86 305.17 L381.28 304.91 L381.69 304.64 L382.10 304.36 L382.50 304.06 L382.91 303.76 L383.31 303.45 L383.71 303.13 L384.10 302.80 L384.50 302.46 L384.89 302.12 L385.28 301.77 L385.67 301.42 L386.06 301.06 L386.45 300.70 L386.83 300.34 L387.22 299.98 L387.61 299.61 L387.99 299.25 L388.38 298.89 L388.77 298.52 L389.15 298.16 L389.54 297.81 L389.93 297.45 L390.32 297.11 L390.72 296.76 L391.11 296.43 L391.51 296.10 L391.90 295.77 L392.30 295.46 L392.71 295.15 L393.11 294.86 L393.52 294.57 L393.93 294.30 L394.34 294.04 L394.76 293.79 L395.18 293.55 L395.61 293.33 L396.04 293.13 L396.47 292.94 L396.91 292.77 L397.36 292.61 L397.80 292.48 L398.26 292.36 L398.72 292.26 L399.18 292.18 L399.65 292.13 L400.13 292.09 L400.61 292.08 L401.10 292.09 L401.59 292.11 L402.09 292.15 L402.59 292.21 L403.10 292.28 L403.60 292.36 L404.11 292.45 L404.63 292.55 L405.14 292.66 L405.66 292.77 L406.17 292.88 L406.69 293.00 L407.21 293.12 L407.72 293.23 L408.24 293.34 L408.75 293.45 L409.26 293.56 L409.77 293.65 L410.28 293.74 L410.78 293.81 L411.28 293.87 L411.78 293.93 L412.27 293.97 L412.76 294.00 L413.25 294.02 L413.74 294.03 L414.22 294.03 L414.70 294.01 L415.18 293.99 L415.66 293.95 L416.13 293.90 L416.60 293.84 L417.07 293.77 L417.54 293.69 L418.01 293.59 L418.47 293.48 L418.94 293.37 L419.40 293.23 L419.86 293.09 L420.31 292.94 L420.77 292.77 L421.23 292.59 L421.68 292.39 L422.14 292.19 L422.59 291.98 L423.04 291.76 L423.50 291.53 L423.95 291.29 L424.40 291.05 L424.85 290.81 L425.31 290.56 L425.76 290.31 L426.22 290.07 L426.68 289.82 L427.14 289.58 L427.60 289.34 L428.06 289.10 L428.53 288.87 L428.99 288.65 L429.46 288.44 L429.93 288.24 L430.41 288.04 L430.88 287.85 L431.36 287.68 L431.84 287.51 L432.32 287.35 L432.80 287.20 L433.28 287.06 L433.76 286.93 L434.24 286.81 L434.72 286.71 L435.21 286.61 L435.69 286.53 L436.17 286.46 L436.65 286.40 L437.13 286.35 L437.61 286.31 L438.09 286.28 L438.57 286.26 L439.05 286.26 L439.54 286.26 L440.02 286.27 L440.50 286.29 L440.98 286.32 L441.47 286.36 L441.95 286.40 L442.44 286.46 L442.92 286.52 L443.41 286.58 L443.90 286.66 L444.39 286.74 L444.88 286.82 L445.37 286.92 L445.87 287.02 L446.37 287.12 L446.86 287.23 L447.37 287.34 L447.87 287.45 L448.37 287.58 L448.88 287.70 L449.39 287.82 L449.90 287.95 L450.41 288.08 L450.92 288.20 L451.43 288.32 L451.94 288.45 L452.46 288.56 L452.97 288.68 L453.48 288.79 L453.99 288.89 L454.50 288.98 L455.01 289.07 L455.52 289.15 L456.03 289.22 L456.53 289.28 L457.04 289.33 L457.54 289.36 L458.04 289.39 L458.53 289.39 L459.03 289.39 L459.52 289.37 L460.00 289.33 L460.48 289.27 L460.96 289.20 L461.44 289.10 L461.91 289.00 L462.37 288.87 L462.84 288.73 L463.29 288.58 L463.75 288.41 L464.19 288.23 L464.64 288.03 L465.08 287.82 L465.51 287.59 L465.94 287.36 L466.36 287.11 L466.78 286.85 L467.19 286.58 L467.60 286.30 L468.00 286.02 L468.40 285.72 L468.79 285.41 L469.17 285.09 L469.55 284.77 L469.92 284.44 L470.29 284.10 L470.65 283.76 L471.00 283.41 L471.35 283.05 L471.69 282.69 L472.02 282.32 L472.35 281.95 L472.67 281.58 L472.99 281.20 L473.30 280.81 L473.60 280.42 L473.89 280.03 L474.19 279.63 L474.47 279.23 L474.75 278.82 L475.02 278.41 L475.29 278.00 L475.55 277.58 L475.81 277.16 L476.06 276.73 L476.31 276.30 L476.55 275.87 L476.79 275.43 L477.02 274.99 L477.25 274.55 L477.47 274.11 L477.69 273.66 L477.91 273.21 L478.12 272.75 L478.32 272.29 L478.52 271.83 L478.72 271.37 L478.91 270.91 L479.10 270.44 L479.29 269.97 L479.47 269.50 L479.65 269.03 L479.82 268.55 L480.00 268.07 L480.16 267.59 L480.33 267.11 L480.49 266.63 L480.65 266.14 L480.81 265.66 L480.96 265.17 L481.11 264.68 L481.26 264.19 L481.40 263.70 L481.55 263.21 L481.69 262.72 L481.83 262.23 L481.96 261.73 L482.10 261.24 L482.23 260.74 L482.36 260.25 L482.49 259.75 L482.62 259.25 L482.74 258.76 L482.86 258.26 L482.99 257.77 L483.11 257.27 L483.23 256.77 L483.35 256.28 L483.47 255.78 L483.58 255.29 L483.70 254.80 L483.81 254.30 L483.93 253.81 L484.04 253.32 L484.16 252.83 L484.27 252.34 L484.39 251.85 L484.50 251.36 L484.61 250.88 L484.72 250.39 L484.84 249.91 L484.95 249.43 L485.07 248.95 L485.18 248.47 L485.29 247.99 L485.41 247.52 L485.52 247.04 L485.64 246.57 L485.76 246.09 L485.87 245.62 L485.99 245.15 L486.11 244.68 L486.23 244.21 L486.34 243.74 L486.46 243.28 L486.58 242.81 L486.71 242.34 L486.83 241.88 L486.95 241.41 L487.07 240.95 L487.20 240.48 L487.33 240.02 L487.45 239.55 L487.58 239.09 L487.71 238.62 L487.84 238.16 L487.97 237.70 L488.10 237.23 L488.24 236.77 L488.37 236.30 L488.51 235.84 L488.65 235.37 L488.79 234.91 L488.93 234.44 L489.07 233.97 L489.22 233.50 L489.36 233.04 L489.51 232.57 L489.66 232.10 L489.81 231.63 L489.97 231.16 L490.12 230.68 L490.28 230.21 L490.44 229.74 L490.60 229.26 L490.76 228.78 L490.92 228.30 L491.09 227.82 L491.26 227.34 L491.43 226.86 L491.60 226.38 L491.78 225.89 L491.95 225.40 L492.13 224.91 L492.32 224.42 L492.50 223.93 L492.69 223.44 L492.88 222.94 L493.07 222.44 L493.27 221.94 L493.46 221.44 L493.66 220.93 L493.87 220.43 L494.07 219.92 L494.28 219.41 L494.50 218.90 L494.72 218.40 L494.94 217.90 L495.18 217.41 L495.42 216.93 L495.66 216.45 L495.92 215.99 L496.19 215.54 L496.46 215.10 L496.75 214.67 L497.05 214.27 L497.36 213.88 L497.69 213.50 L498.02 213.15 L498.37 212.82 L498.74 212.52 L499.12 212.24 L499.51 211.98 L499.91 211.76 L500.31 211.57 L500.72 211.41 L501.12 211.29 L501.53 211.20 L501.93 211.16 L502.33 211.15 L502.71 211.19 L503.09 211.27 L503.46 211.39 L503.82 211.55 L504.17 211.75 L504.52 211.97 L504.85 212.23 L505.18 212.53 L505.50 212.84 L505.80 213.19 L506.11 213.56 L506.40 213.96 L506.68 214.37 L506.95 214.80 L507.22 215.26 L507.48 215.72 L507.73 216.20 L507.97 216.70 L508.20 217.20 L508.42 217.71 L508.63 218.22 L508.84 218.75 L509.04 219.27 L509.23 219.79 L509.41 220.32 L509.58 220.84 L509.74 221.35 L509.89 221.87 L510.04 222.38 L510.18 222.89 L510.32 223.40 L510.45 223.90 L510.57 224.40 L510.68 224.90 L510.80 225.40 L510.90 225.90 L511.01 226.39 L511.10 226.88 L511.20 227.38 L511.29 227.87 L511.38 228.36 L511.47 228.84 L511.55 229.33 L511.64 229.82 L511.72 230.30 L511.80 230.79 L511.88 231.27 L511.97 231.75 L512.05 232.24 L512.13 232.72 L512.22 233.20 L512.30 233.68 L512.39 234.17 L512.48 234.65 L512.57 235.13 L512.66 235.62 L512.75 236.10 L512.84 236.58 L512.94 237.06 L513.04 237.55 L513.13 238.03 L513.23 238.51 L513.33 239.00 L513.44 239.48 L513.54 239.96 L513.64 240.44 L513.75 240.93 L513.85 241.41 L513.96 241.89 L514.07 242.38 L514.18 242.86 L514.29 243.34 L514.40 243.82 L514.51 244.31 L514.63 244.79 L514.74 245.27 L514.86 245.76 L514.97 246.24 L515.09 246.72 L515.21 247.21 L515.33 247.69 L515.45 248.17 L515.57 248.66 L515.69 249.14 L515.81 249.62 L515.93 250.11 L516.05 250.59 L516.18 251.07 L516.30 251.56 L516.42 252.04 L516.55 252.52 L516.67 253.01 L516.80 253.49 L516.93 253.97 L517.05 254.46 L517.18 254.94 L517.31 255.42 L517.44 255.91 L517.57 256.39 L517.69 256.88 L517.82 257.36 L517.95 257.84 L518.08 258.33 L518.21 258.81 L518.34 259.30 L518.47 259.78 L518.60 260.26 L518.73 260.75 L518.86 261.23 L518.99 261.72 L519.12 262.20 L519.25 262.69 L519.39 263.17 L519.52 263.66 L519.65 264.14 L519.78 264.62 L519.91 265.11 L520.04 265.59 L520.17 266.08 L520.30 266.56 L520.43 267.05 L520.56 267.53 L520.69 268.02 L520.81 268.50 L520.94 268.99 L521.07 269.48 L521.20 269.96 L521.33 270.45 L521.45 270.93 L521.58 271.42 L521.71 271.90 L521.83 272.39 L521.96 272.88 L522.08 273.36 L522.21 273.85 L522.33 274.33 L522.46 274.82 L522.58 275.31 L522.70 275.79 L522.82 276.28 L522.94 276.77 L523.06 277.25 L523.18 277.74 L523.30 278.23 L523.42 278.71 L523.53 279.20 L523.65 279.69 L523.76 280.18 L523.88 280.66 L523.99 281.15 L524.10 281.64 L524.21 282.13 L524.32 282.61 L524.43 283.10 L524.54 283.59 L524.65 284.08 L524.76 284.57 L524.87 285.05 L524.98 285.54 L525.08 286.03 L525.19 286.52 L525.30 287.00 L525.41 287.49 L525.52 287.98 L525.63 288.46 L525.74 288.95 L525.85 289.44 L525.96 289.92 L526.07 290.41 L526.19 290.89 L526.30 291.37 L526.42 291.86 L526.54 292.34 L526.66 292.82 L526.78 293.31 L526.90 293.79 L527.03 294.27 L527.16 294.75 L527.29 295.23 L527.42 295.71 L527.55 296.19 L527.69 296.66 L527.83 297.14 L527.97 297.62 L528.12 298.09 L528.26 298.56 L528.42 299.04 L528.57 299.51 L528.73 299.98 L528.89 300.45 L529.05 300.92 L529.22 301.39 L529.39 301.86 L529.57 302.32 L529.75 302.79 L529.93 303.25 L530.11 303.72 L530.30 304.18 L530.49 304.64 L530.69 305.10 L530.88 305.56 L531.08 306.02 L531.29 306.48 L531.49 306.93 L531.70 307.39 L531.91 307.84 L532.13 308.30 L532.34 308.75 L532.56 309.20 L532.78 309.65 L533.01 310.10 L533.23 310.55 L533.46 311.00 L533.69 311.44 L533.93 311.89 L534.16 312.33 L534.40 312.78 L534.64 313.22 L534.88 313.66 L535.12 314.10 L535.37 314.54 L535.61 314.98 L535.86 315.42 L536.11 315.86 L536.36 316.30 L536.62 316.73 L536.87 317.17 L537.13 317.60 L537.39 318.03 L537.64 318.46 L537.91 318.89 L538.17 319.32 L538.43 319.75 L538.69 320.18 L538.96 320.61 L539.23 321.03 L539.49 321.46 L539.76 321.88 L540.03 322.31 L540.30 322.73 L540.57 323.15 L540.84 323.57 L541.11 323.99 L541.38 324.41 L541.66 324.83 L541.93 325.25 L542.20 325.66 L542.48 326.08 L542.75 326.49 L543.03 326.90 L543.30 327.32 L543.58 327.73 L543.85 328.14 L544.13 328.55 L544.40 328.96 L544.68 329.37 L544.95 329.78 L545.23 330.19 L545.50 330.59 L545.78 331.00 L546.05 331.41 L546.32 331.82 L546.60 332.22 L546.87 332.63 L547.15 333.04 L547.42 333.45 L547.69 333.85 L547.96 334.26 L548.24 334.67 L548.51 335.08 L548.78 335.49 L549.05 335.90 L549.32 336.31 L549.59 336.72 L549.85 337.14 L550.12 337.55 L550.39 337.97 L550.66 338.38 L550.92 338.80 L551.19 339.22 L551.45 339.64 L551.71 340.06 L551.97 340.48 L552.23 340.91 L552.49 341.33 L552.75 341.76 L553.01 342.19 L553.27 342.62 L553.52 343.06 L553.78 343.49 L554.03 343.93 L554.28 344.37 L554.53 344.81 L554.78 345.26 L555.03 345.70 L555.28 346.15 L555.52 346.60 L555.77 347.06 L556.01 347.51 L556.25 347.97 L556.50 348.43 L556.74 348.89 L556.98 349.34 L557.23 349.80 L557.48 350.26 L557.72 350.71 L557.97 351.16 L558.23 351.62 L558.48 352.06 L558.74 352.51 L559.01 352.95 L559.27 353.39 L559.54 353.82 L559.82 354.25 L560.10 354.67 L560.38 355.08 L560.67 355.49 L560.97 355.90 L561.27 356.29 L561.58 356.68 L561.90 357.06 L562.22 357.43 L562.56 357.80 L562.90 358.15 L563.24 358.49 L563.60 358.83 L563.97 359.15 L564.34 359.46 L564.73 359.76 L565.12 360.05 L565.53 360.33 L565.94 360.59 L566.37 360.84 L566.80 361.07 L567.25 361.30 L567.70 361.50 L568.15 361.70 L568.62 361.88 L569.09 362.04 L569.56 362.19 L570.04 362.32 L570.52 362.44 L571.00 362.54 L571.49 362.62 L571.97 362.69 L572.46 362.74 L572.95 362.77 L573.44 362.78 L573.92 362.78 L574.40 362.75 L574.88 362.71 L575.36 362.65 L575.83 362.57 L576.30 362.47 L576.76 362.35 L577.22 362.20 L577.67 362.04 L578.11 361.86 L578.54 361.65 L578.97 361.42 L579.38 361.18 L579.79 360.91 L580.19 360.63 L580.59 360.32 L580.97 360.01 L581.35 359.68 L581.72 359.33 L582.09 358.98 L582.45 358.61 L582.81 358.24 L583.16 357.85 L583.50 357.46 L583.84 357.07 L584.18 356.67 L584.51 356.26 L584.84 355.85 L585.17 355.45 L585.50 355.04 L585.82 354.63 L586.13 354.22 L586.45 353.81 L586.76 353.40 L587.07 352.98 L587.38 352.57 L587.68 352.16 L587.99 351.74 L588.28 351.33 L588.58 350.91 L588.88 350.49 L589.17 350.07 L589.46 349.66 L589.75 349.24 L590.03 348.82 L590.31 348.40 L590.59 347.98 L590.87 347.55 L591.15 347.13 L591.43 346.71 L591.70 346.29 L591.97 345.86 L592.24 345.44 L592.51 345.01 L592.77 344.59 L593.04 344.16 L593.30 343.73 L593.56 343.31 L593.82 342.88 L594.08 342.45 L594.34 342.03 L594.59 341.60 L594.84 341.17 L595.10 340.74 L595.35 340.31 L595.60 339.88 L595.85 339.45 L596.10 339.02 L596.35 338.59 L596.59 338.16 L596.84 337.73 L597.08 337.30 L597.33 336.86 L597.57 336.43 L597.81 336.00 L598.06 335.57 L598.30 335.14 L598.54 334.70 L598.78 334.27 L599.02 333.84 L599.26 333.41 L599.50 332.97 L599.74 332.54 L599.98 332.11 L600.22 331.68 L600.46 331.24 L600.70 330.81 L600.93 330.38 L601.17 329.94 L601.41 329.51 L601.65 329.08 L601.89 328.65 L602.13 328.21 L602.37 327.78 L602.61 327.35 L602.85 326.92 L603.10 326.48 L603.34 326.05 L603.58 325.62 L603.82 325.19 L604.07 324.76 L604.31 324.33 L604.56 323.90 L604.80 323.47 L605.05 323.04 L605.30 322.61 L605.55 322.18 L605.80 321.75 L606.05 321.32 L606.30 320.89 L606.55 320.46 L606.81 320.04 L607.06 319.61 L607.31 319.18 L607.57 318.76 L607.83 318.33 L608.09 317.91 L608.35 317.48 L608.61 317.06 L608.87 316.64 L609.13 316.21 L609.40 315.79 L609.66 315.37 L609.93 314.95 L610.20 314.53 L610.46 314.11 L610.74 313.69 L611.01 313.28 L611.28 312.86 L611.55 312.44 L611.83 312.03 L612.11 311.61 L612.39 311.20 L612.67 310.79 L612.95 310.37 L613.23 309.96 L613.51 309.55 L613.80 309.14 L614.09 308.74 L614.38 308.33 L614.67 307.92 L614.96 307.52 L615.25 307.11 L615.55 306.71 L615.85 306.31 L616.15 305.91 L616.45 305.51 L616.75 305.11 L617.05 304.71 L617.36 304.32 L617.67 303.92 L617.98 303.53 L618.29 303.13 L618.60 302.74 L618.92 302.35 L619.24 301.96 L619.56 301.58 L619.88 301.19 L620.20 300.80 L620.53 300.42 L620.85 300.04 L621.18 299.66 L621.51 299.28 L621.85 298.90 L622.18 298.53 L622.52 298.15 L622.86 297.78 L623.20 297.41 L623.55 297.04 L623.89 296.67 L624.24 296.30 L624.59 295.93 L624.95 295.57 L625.30 295.21 L625.66 294.85 L626.02 294.49 L626.38 294.13 L626.75 293.78 L627.12 293.42 L627.49 293.07 L627.86 292.73 L628.24 292.38 L628.62 292.04 L629.00 291.71 L629.38 291.38 L629.77 291.05 L630.16 290.73 L630.55 290.42 L630.95 290.11 L631.35 289.81 L631.75 289.52 L632.16 289.23 L632.57 288.95 L632.98 288.68 L633.40 288.41 L633.82 288.16 L634.25 287.91 L634.68 287.67 L635.11 287.45 L635.54 287.23 L635.98 287.02 L636.43 286.83 L636.88 286.65 L637.33 286.47 L637.79 286.31 L638.25 286.16 L638.71 286.03 L639.18 285.90 L639.65 285.79 L640.13 285.68 L640.61 285.59 L641.09 285.50 L641.57 285.43 L642.06 285.37 L642.55 285.31 L643.04 285.27 L643.54 285.23 L644.03 285.20 L644.53 285.18 L645.03 285.17 L645.54 285.17 L646.04 285.18 L646.54 285.19 L647.05 285.21 L647.55 285.23 L648.06 285.27 L648.57 285.31 L649.08 285.35 L649.59 285.41 L650.09 285.46 L650.60 285.53 L651.11 285.60 L651.62 285.67 L652.12 285.75 L652.63 285.83 L653.13 285.92 L653.64 286.01 L654.14 286.11 L654.64 286.20 L655.14 286.31 L655.64 286.41 L656.13 286.52 L656.62 286.63 L657.12 286.74 L657.61 286.86 L658.09 286.97 L658.58 287.09 L659.07 287.21 L659.55 287.33 L660.04 287.45 L660.52 287.57 L661.00 287.69 L661.48 287.81 L661.96 287.93 L662.44 288.05 L662.92 288.17 L663.40 288.28 L663.88 288.40 L664.36 288.51 L664.84 288.62 L665.32 288.73 L665.80 288.84 L666.28 288.94 L666.76 289.04 L667.25 289.14 L667.73 289.23 L668.21 289.32 L668.70 289.41 L669.19 289.49 L669.68 289.57 L670.17 289.64 L670.66 289.70 L671.15 289.76 L671.65 289.82 L672.14 289.87 L672.64 289.91 L673.14 289.94 L673.65 289.97 L674.15 289.99 L674.66 290.01 L675.17 290.02 L675.68 290.02 L676.20 290.02 L676.71 290.01 L677.22 290.00 L677.73 289.99 L678.24 289.98 L678.75 289.96 L679.26 289.94 L679.76 289.93 L680.26 289.91 L680.76 289.90 L681.25 289.89 L681.74 289.88 L682.22 289.87" stroke="#2c2c2c" stroke-width="1.6"/>
</g>
<line x1="502.6" y1="260.4" x2="502.6" y2="251.8" stroke="#999" stroke-width="0.6"/>
<path d="M502.6 250.3 L501.5 252.9 L503.7 252.9 Z" fill="#444"/>
<text x="502.6" y="267.3" text-anchor="middle" font-size="5.4">N1</text>
<line x1="572.3" y1="332.0" x2="572.3" y2="341.4" stroke="#999" stroke-width="0.6"/>
<path d="M572.3 342.9 L571.2 340.3 L573.4 340.3 Z" fill="#444"/>
<text x="572.3" y="330.5" text-anchor="middle" font-size="5.4">P2</text>
<rect x="661.0" y="198.5" width="18.6" height="14.0" fill="#fff" stroke="#dcdcdc" stroke-width="0.9"/>
<line x1="661.6" y1="202.2" x2="670.3" y2="202.2" stroke="#868686" stroke-width="1.1"/>
<line x1="661.6" y1="209.0" x2="670.3" y2="209.0" stroke="#2c2c2c" stroke-width="1.5"/>
<text x="671.2" y="204.5" font-size="5.3">Std</text>
<text x="671.2" y="210.7" font-size="5.3">Trg</text>
</svg>
</body></html>
